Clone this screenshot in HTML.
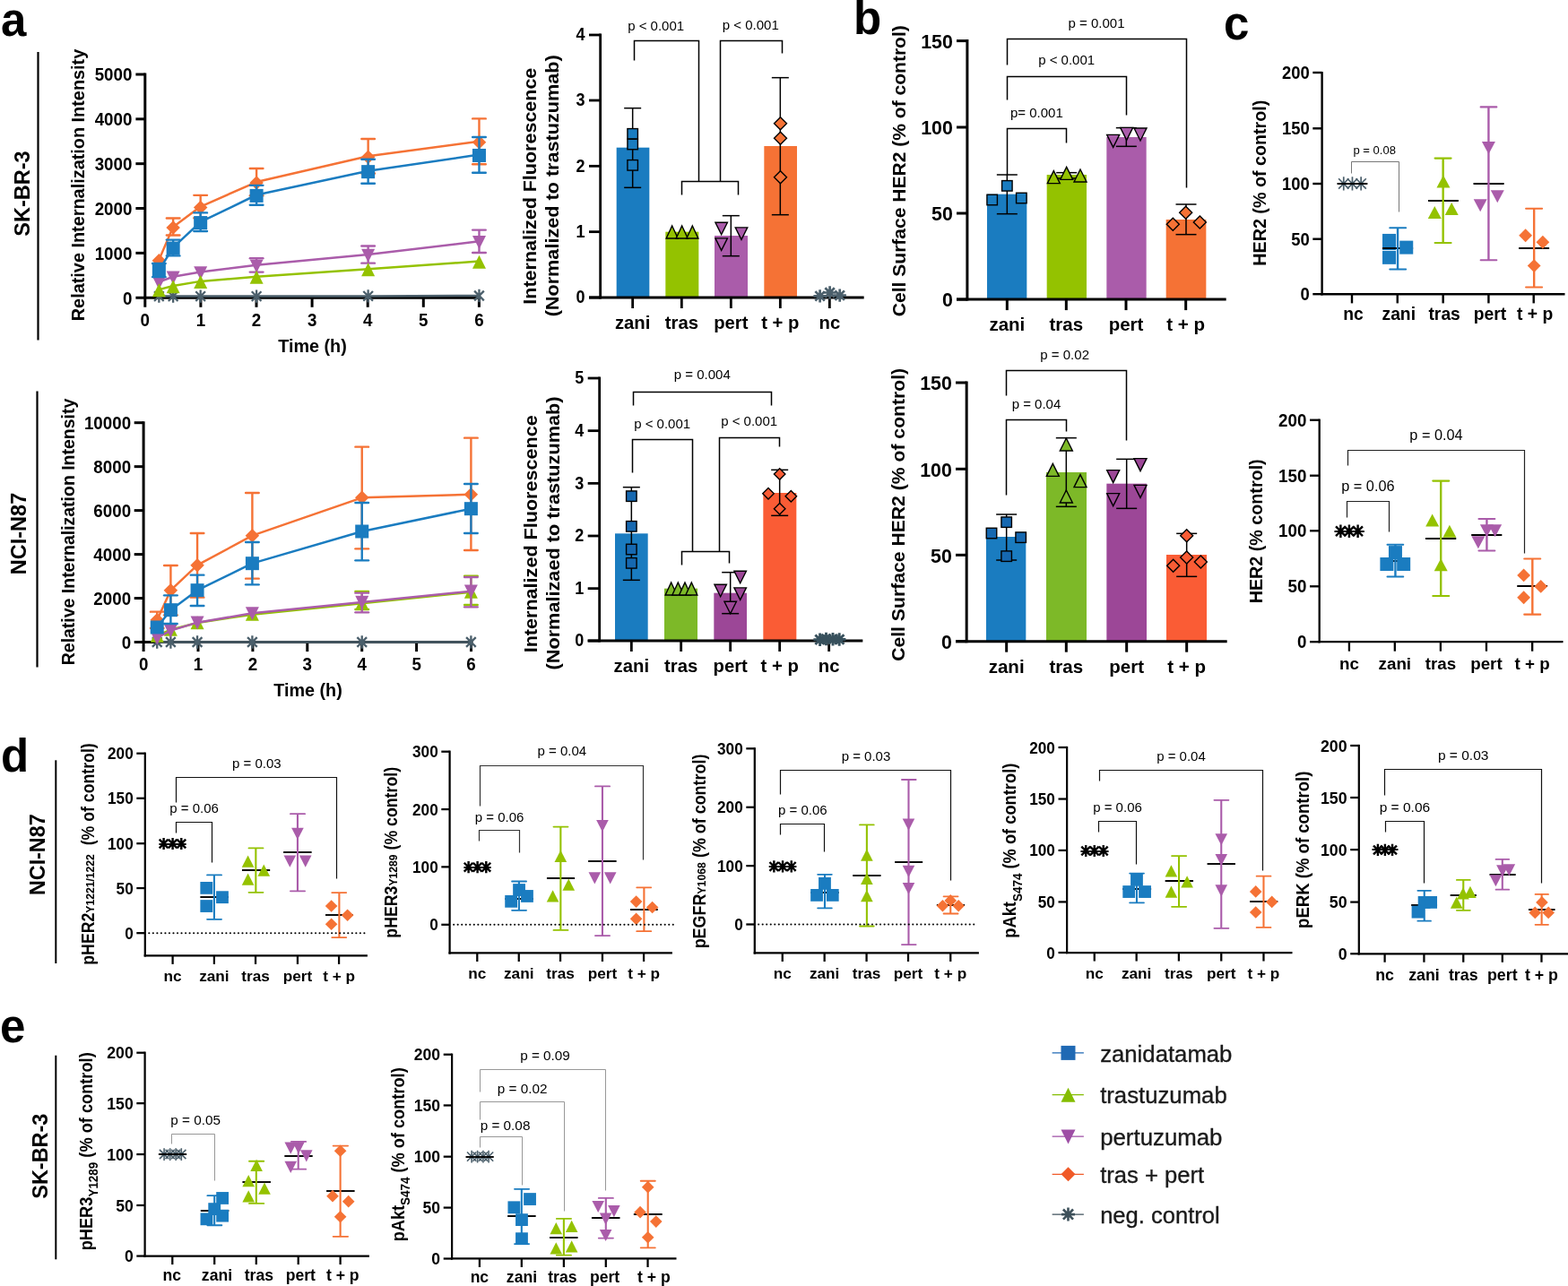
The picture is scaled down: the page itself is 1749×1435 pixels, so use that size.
<!DOCTYPE html>
<html lang="en"><head><meta charset="utf-8"><title>Figure</title>
<style>html,body{margin:0;padding:0;background:#fff}svg{display:block}text{font-family:'Liberation Sans', sans-serif}</style></head>
<body>
<svg width="1749" height="1435" viewBox="0 0 1749 1435">
<rect width="1749" height="1435" fill="#fff"/>
<line x1="161.8" y1="81.5" x2="161.8" y2="342.8" stroke="#000" stroke-width="3"/>
<line x1="151.4" y1="332.2" x2="535.5" y2="332.2" stroke="#000" stroke-width="3"/>
<line x1="151.4" y1="83" x2="161.8" y2="83" stroke="#000" stroke-width="3"/>
<text transform="translate(147.4 90.3) scale(0.92 1)" font-size="20.4" font-weight="bold" text-anchor="end">5000</text>
<line x1="151.4" y1="132.84" x2="161.8" y2="132.84" stroke="#000" stroke-width="3"/>
<text transform="translate(147.4 140.14) scale(0.92 1)" font-size="20.4" font-weight="bold" text-anchor="end">4000</text>
<line x1="151.4" y1="182.68" x2="161.8" y2="182.68" stroke="#000" stroke-width="3"/>
<text transform="translate(147.4 189.98) scale(0.92 1)" font-size="20.4" font-weight="bold" text-anchor="end">3000</text>
<line x1="151.4" y1="232.52" x2="161.8" y2="232.52" stroke="#000" stroke-width="3"/>
<text transform="translate(147.4 239.82) scale(0.92 1)" font-size="20.4" font-weight="bold" text-anchor="end">2000</text>
<line x1="151.4" y1="282.36" x2="161.8" y2="282.36" stroke="#000" stroke-width="3"/>
<text transform="translate(147.4 289.66) scale(0.92 1)" font-size="20.4" font-weight="bold" text-anchor="end">1000</text>
<text transform="translate(147.4 339.5) scale(0.92 1)" font-size="20.4" font-weight="bold" text-anchor="end">0</text>
<text transform="translate(161.8 364.2) scale(0.92 1)" font-size="20.4" font-weight="bold" text-anchor="middle">0</text>
<line x1="223.9" y1="332.2" x2="223.9" y2="342.8" stroke="#000" stroke-width="3"/>
<text transform="translate(223.9 364.2) scale(0.92 1)" font-size="20.4" font-weight="bold" text-anchor="middle">1</text>
<line x1="286" y1="332.2" x2="286" y2="342.8" stroke="#000" stroke-width="3"/>
<text transform="translate(286 364.2) scale(0.92 1)" font-size="20.4" font-weight="bold" text-anchor="middle">2</text>
<line x1="348.1" y1="332.2" x2="348.1" y2="342.8" stroke="#000" stroke-width="3"/>
<text transform="translate(348.1 364.2) scale(0.92 1)" font-size="20.4" font-weight="bold" text-anchor="middle">3</text>
<line x1="410.2" y1="332.2" x2="410.2" y2="342.8" stroke="#000" stroke-width="3"/>
<text transform="translate(410.2 364.2) scale(0.92 1)" font-size="20.4" font-weight="bold" text-anchor="middle">4</text>
<line x1="472.3" y1="332.2" x2="472.3" y2="342.8" stroke="#000" stroke-width="3"/>
<text transform="translate(472.3 364.2) scale(0.92 1)" font-size="20.4" font-weight="bold" text-anchor="middle">5</text>
<line x1="534.4" y1="332.2" x2="534.4" y2="342.8" stroke="#000" stroke-width="3"/>
<text transform="translate(534.4 364.2) scale(0.92 1)" font-size="20.4" font-weight="bold" text-anchor="middle">6</text>
<polyline points="177.36,330.6 193.14,330.6 223.67,330.6 286.11,330.6 410.63,330.4 534.48,330" fill="none" stroke="#4B5F6B" stroke-width="2.5" stroke-linejoin="round"/>
<path d="M177.36 323.4V337.8M172.01 325.25L182.7 335.95M172.01 335.95L182.7 325.25" stroke="#4B5F6B" stroke-width="2.3" fill="none"/>
<path d="M193.14 323.4V337.8M187.79 325.25L198.48 335.95M187.79 335.95L198.48 325.25" stroke="#4B5F6B" stroke-width="2.3" fill="none"/>
<path d="M223.67 323.4V337.8M218.32 325.25L229.02 335.95M218.32 335.95L229.02 325.25" stroke="#4B5F6B" stroke-width="2.3" fill="none"/>
<path d="M286.11 323.4V337.8M280.76 325.25L291.45 335.95M280.76 335.95L291.45 325.25" stroke="#4B5F6B" stroke-width="2.3" fill="none"/>
<path d="M410.63 323.2V337.6M405.29 325.05L415.98 335.75M405.29 335.75L415.98 325.05" stroke="#4B5F6B" stroke-width="2.3" fill="none"/>
<path d="M534.48 322.8V337.2M529.13 324.65L539.82 335.35M529.13 335.35L539.82 324.65" stroke="#4B5F6B" stroke-width="2.3" fill="none"/>
<polyline points="177.36,289.88 193.14,253.17 223.67,230.53 286.11,203.09 410.63,174.27 534.48,157.8" fill="none" stroke="#F57235" stroke-width="2.5" stroke-linejoin="round"/>
<line x1="193.14" y1="243.57" x2="193.14" y2="262.44" stroke="#F57235" stroke-width="2.4"/>
<line x1="185.84" y1="243.57" x2="200.44" y2="243.57" stroke="#F57235" stroke-width="2.4" stroke-linecap="round"/>
<line x1="185.84" y1="262.44" x2="200.44" y2="262.44" stroke="#F57235" stroke-width="2.4" stroke-linecap="round"/>
<line x1="223.67" y1="217.84" x2="223.67" y2="243.22" stroke="#F57235" stroke-width="2.4"/>
<line x1="216.37" y1="217.84" x2="230.97" y2="217.84" stroke="#F57235" stroke-width="2.4" stroke-linecap="round"/>
<line x1="216.37" y1="243.22" x2="230.97" y2="243.22" stroke="#F57235" stroke-width="2.4" stroke-linecap="round"/>
<line x1="286.11" y1="187.99" x2="286.11" y2="218.18" stroke="#F57235" stroke-width="2.4"/>
<line x1="278.81" y1="187.99" x2="293.41" y2="187.99" stroke="#F57235" stroke-width="2.4" stroke-linecap="round"/>
<line x1="278.81" y1="218.18" x2="293.41" y2="218.18" stroke="#F57235" stroke-width="2.4" stroke-linecap="round"/>
<line x1="410.63" y1="155.06" x2="410.63" y2="193.48" stroke="#F57235" stroke-width="2.4"/>
<line x1="403.33" y1="155.06" x2="417.93" y2="155.06" stroke="#F57235" stroke-width="2.4" stroke-linecap="round"/>
<line x1="403.33" y1="193.48" x2="417.93" y2="193.48" stroke="#F57235" stroke-width="2.4" stroke-linecap="round"/>
<line x1="534.48" y1="132.42" x2="534.48" y2="183.19" stroke="#F57235" stroke-width="2.4"/>
<line x1="527.18" y1="132.42" x2="541.78" y2="132.42" stroke="#F57235" stroke-width="2.4" stroke-linecap="round"/>
<line x1="527.18" y1="183.19" x2="541.78" y2="183.19" stroke="#F57235" stroke-width="2.4" stroke-linecap="round"/>
<polygon points="177.36,283.03 185.11,290.78 177.36,298.53 169.61,290.78" fill="#F57235"/>
<polygon points="193.14,246.32 200.89,254.07 193.14,261.82 185.39,254.07" fill="#F57235"/>
<polygon points="223.67,223.68 231.42,231.43 223.67,239.18 215.92,231.43" fill="#F57235"/>
<polygon points="286.11,196.24 293.86,203.99 286.11,211.74 278.36,203.99" fill="#F57235"/>
<polygon points="410.63,167.42 418.38,175.17 410.63,182.92 402.88,175.17" fill="#F57235"/>
<polygon points="534.48,150.95 542.23,158.7 534.48,166.45 526.73,158.7" fill="#F57235"/>
<polyline points="177.36,314.58 193.14,308.75 223.67,303.6 286.11,295.71 410.63,284.05 534.48,269.3" fill="none" stroke="#AA5CAA" stroke-width="2.5" stroke-linejoin="round"/>
<line x1="286.11" y1="288.16" x2="286.11" y2="303.6" stroke="#AA5CAA" stroke-width="2.4"/>
<line x1="278.81" y1="288.16" x2="293.41" y2="288.16" stroke="#AA5CAA" stroke-width="2.4" stroke-linecap="round"/>
<line x1="278.81" y1="303.6" x2="293.41" y2="303.6" stroke="#AA5CAA" stroke-width="2.4" stroke-linecap="round"/>
<line x1="410.63" y1="274.44" x2="410.63" y2="293.65" stroke="#AA5CAA" stroke-width="2.4"/>
<line x1="403.33" y1="274.44" x2="417.93" y2="274.44" stroke="#AA5CAA" stroke-width="2.4" stroke-linecap="round"/>
<line x1="403.33" y1="293.65" x2="417.93" y2="293.65" stroke="#AA5CAA" stroke-width="2.4" stroke-linecap="round"/>
<line x1="534.48" y1="256.6" x2="534.48" y2="281.99" stroke="#AA5CAA" stroke-width="2.4"/>
<line x1="527.18" y1="256.6" x2="541.78" y2="256.6" stroke="#AA5CAA" stroke-width="2.4" stroke-linecap="round"/>
<line x1="527.18" y1="281.99" x2="541.78" y2="281.99" stroke="#AA5CAA" stroke-width="2.4" stroke-linecap="round"/>
<polygon points="177.36,323.28 184.86,308.28 169.86,308.28" fill="#AA5CAA"/>
<polygon points="193.14,317.45 200.64,302.45 185.64,302.45" fill="#AA5CAA"/>
<polygon points="223.67,312.3 231.17,297.3 216.17,297.3" fill="#AA5CAA"/>
<polygon points="286.11,304.41 293.61,289.41 278.61,289.41" fill="#AA5CAA"/>
<polygon points="410.63,292.75 418.13,277.75 403.13,277.75" fill="#AA5CAA"/>
<polygon points="534.48,278 541.98,263 526.98,263" fill="#AA5CAA"/>
<polyline points="177.36,323.16 193.14,319.04 223.67,313.89 286.11,308.75 410.63,300.17 534.48,291.6" fill="none" stroke="#94C200" stroke-width="2.5" stroke-linejoin="round"/>
<polygon points="177.36,316.26 184.86,331.26 169.86,331.26" fill="#94C200"/>
<polygon points="193.14,312.14 200.64,327.14 185.64,327.14" fill="#94C200"/>
<polygon points="223.67,306.99 231.17,321.99 216.17,321.99" fill="#94C200"/>
<polygon points="286.11,301.85 293.61,316.85 278.61,316.85" fill="#94C200"/>
<polygon points="410.63,293.27 418.13,308.27 403.13,308.27" fill="#94C200"/>
<polygon points="534.48,284.7 541.98,299.7 526.98,299.7" fill="#94C200"/>
<polyline points="177.36,301.54 193.14,276.16 223.67,247.68 286.11,217.5 410.63,190.74 534.48,172.56" fill="none" stroke="#1A7CC0" stroke-width="2.5" stroke-linejoin="round"/>
<line x1="177.36" y1="294" x2="177.36" y2="309.09" stroke="#1A7CC0" stroke-width="2.4"/>
<line x1="170.06" y1="294" x2="184.66" y2="294" stroke="#1A7CC0" stroke-width="2.4" stroke-linecap="round"/>
<line x1="170.06" y1="309.09" x2="184.66" y2="309.09" stroke="#1A7CC0" stroke-width="2.4" stroke-linecap="round"/>
<line x1="193.14" y1="267.58" x2="193.14" y2="285.42" stroke="#1A7CC0" stroke-width="2.4"/>
<line x1="185.84" y1="267.58" x2="200.44" y2="267.58" stroke="#1A7CC0" stroke-width="2.4" stroke-linecap="round"/>
<line x1="185.84" y1="285.42" x2="200.44" y2="285.42" stroke="#1A7CC0" stroke-width="2.4" stroke-linecap="round"/>
<line x1="223.67" y1="237.39" x2="223.67" y2="257.98" stroke="#1A7CC0" stroke-width="2.4"/>
<line x1="216.37" y1="237.39" x2="230.97" y2="237.39" stroke="#1A7CC0" stroke-width="2.4" stroke-linecap="round"/>
<line x1="216.37" y1="257.98" x2="230.97" y2="257.98" stroke="#1A7CC0" stroke-width="2.4" stroke-linecap="round"/>
<line x1="286.11" y1="206.86" x2="286.11" y2="228.82" stroke="#1A7CC0" stroke-width="2.4"/>
<line x1="278.81" y1="206.86" x2="293.41" y2="206.86" stroke="#1A7CC0" stroke-width="2.4" stroke-linecap="round"/>
<line x1="278.81" y1="228.82" x2="293.41" y2="228.82" stroke="#1A7CC0" stroke-width="2.4" stroke-linecap="round"/>
<line x1="410.63" y1="177.7" x2="410.63" y2="204.8" stroke="#1A7CC0" stroke-width="2.4"/>
<line x1="403.33" y1="177.7" x2="417.93" y2="177.7" stroke="#1A7CC0" stroke-width="2.4" stroke-linecap="round"/>
<line x1="403.33" y1="204.8" x2="417.93" y2="204.8" stroke="#1A7CC0" stroke-width="2.4" stroke-linecap="round"/>
<line x1="534.48" y1="153" x2="534.48" y2="192.8" stroke="#1A7CC0" stroke-width="2.4"/>
<line x1="527.18" y1="153" x2="541.78" y2="153" stroke="#1A7CC0" stroke-width="2.4" stroke-linecap="round"/>
<line x1="527.18" y1="192.8" x2="541.78" y2="192.8" stroke="#1A7CC0" stroke-width="2.4" stroke-linecap="round"/>
<rect x="169.86" y="294.94" width="15" height="15" fill="#1A7CC0"/>
<rect x="185.64" y="269.56" width="15" height="15" fill="#1A7CC0"/>
<rect x="216.17" y="241.08" width="15" height="15" fill="#1A7CC0"/>
<rect x="278.61" y="210.9" width="15" height="15" fill="#1A7CC0"/>
<rect x="403.13" y="184.14" width="15" height="15" fill="#1A7CC0"/>
<rect x="526.98" y="165.96" width="15" height="15" fill="#1A7CC0"/>
<text x="348.5" y="392.8" font-size="19.8" font-weight="bold" text-anchor="middle">Time (h)</text>
<text transform="translate(93.5 206.5) rotate(-90)" font-size="20.5" font-weight="bold" text-anchor="middle" textLength="303.5" lengthAdjust="spacingAndGlyphs">Relative Internalization Intensity</text>
<text transform="translate(32.5 216) rotate(-90)" font-size="23.5" font-weight="bold" text-anchor="middle">SK-BR-3</text>
<line x1="42.5" y1="58" x2="42.5" y2="379.5" stroke="#000" stroke-width="2.2"/>
<line x1="160.1" y1="470.2" x2="160.1" y2="727.1" stroke="#000" stroke-width="3"/>
<line x1="149.7" y1="716.5" x2="527.5" y2="716.5" stroke="#000" stroke-width="3"/>
<line x1="149.7" y1="471.7" x2="160.1" y2="471.7" stroke="#000" stroke-width="3"/>
<text transform="translate(146.1 479) scale(0.92 1)" font-size="20.4" font-weight="bold" text-anchor="end">10000</text>
<line x1="149.7" y1="520.66" x2="160.1" y2="520.66" stroke="#000" stroke-width="3"/>
<text transform="translate(146.1 527.96) scale(0.92 1)" font-size="20.4" font-weight="bold" text-anchor="end">8000</text>
<line x1="149.7" y1="569.62" x2="160.1" y2="569.62" stroke="#000" stroke-width="3"/>
<text transform="translate(146.1 576.92) scale(0.92 1)" font-size="20.4" font-weight="bold" text-anchor="end">6000</text>
<line x1="149.7" y1="618.58" x2="160.1" y2="618.58" stroke="#000" stroke-width="3"/>
<text transform="translate(146.1 625.88) scale(0.92 1)" font-size="20.4" font-weight="bold" text-anchor="end">4000</text>
<line x1="149.7" y1="667.54" x2="160.1" y2="667.54" stroke="#000" stroke-width="3"/>
<text transform="translate(146.1 674.84) scale(0.92 1)" font-size="20.4" font-weight="bold" text-anchor="end">2000</text>
<text transform="translate(146.1 723.8) scale(0.92 1)" font-size="20.4" font-weight="bold" text-anchor="end">0</text>
<text transform="translate(160.1 748) scale(0.92 1)" font-size="20.4" font-weight="bold" text-anchor="middle">0</text>
<line x1="221" y1="716.5" x2="221" y2="727.1" stroke="#000" stroke-width="3"/>
<text transform="translate(221 748) scale(0.92 1)" font-size="20.4" font-weight="bold" text-anchor="middle">1</text>
<line x1="281.9" y1="716.5" x2="281.9" y2="727.1" stroke="#000" stroke-width="3"/>
<text transform="translate(281.9 748) scale(0.92 1)" font-size="20.4" font-weight="bold" text-anchor="middle">2</text>
<line x1="342.8" y1="716.5" x2="342.8" y2="727.1" stroke="#000" stroke-width="3"/>
<text transform="translate(342.8 748) scale(0.92 1)" font-size="20.4" font-weight="bold" text-anchor="middle">3</text>
<line x1="403.7" y1="716.5" x2="403.7" y2="727.1" stroke="#000" stroke-width="3"/>
<text transform="translate(403.7 748) scale(0.92 1)" font-size="20.4" font-weight="bold" text-anchor="middle">4</text>
<line x1="464.6" y1="716.5" x2="464.6" y2="727.1" stroke="#000" stroke-width="3"/>
<text transform="translate(464.6 748) scale(0.92 1)" font-size="20.4" font-weight="bold" text-anchor="middle">5</text>
<line x1="525.5" y1="716.5" x2="525.5" y2="727.1" stroke="#000" stroke-width="3"/>
<text transform="translate(525.5 748) scale(0.92 1)" font-size="20.4" font-weight="bold" text-anchor="middle">6</text>
<polyline points="175.23,716.5 190.4,716.5 220.07,716.5 281.4,716.5 403.73,716.5 525.4,716.5" fill="none" stroke="#4B5F6B" stroke-width="2.5" stroke-linejoin="round"/>
<path d="M175.23 709.3V723.7M169.89 711.15L180.58 721.85M169.89 721.85L180.58 711.15" stroke="#4B5F6B" stroke-width="2.3" fill="none"/>
<path d="M190.4 709.3V723.7M185.05 711.15L195.75 721.85M185.05 721.85L195.75 711.15" stroke="#4B5F6B" stroke-width="2.3" fill="none"/>
<path d="M220.07 709.3V723.7M214.72 711.15L225.41 721.85M214.72 721.85L225.41 711.15" stroke="#4B5F6B" stroke-width="2.3" fill="none"/>
<path d="M281.4 709.3V723.7M276.05 711.15L286.75 721.85M276.05 721.85L286.75 711.15" stroke="#4B5F6B" stroke-width="2.3" fill="none"/>
<path d="M403.73 709.3V723.7M398.39 711.15L409.08 721.85M398.39 721.85L409.08 711.15" stroke="#4B5F6B" stroke-width="2.3" fill="none"/>
<path d="M525.4 709.3V723.7M520.05 711.15L530.75 721.85M520.05 721.85L530.75 711.15" stroke="#4B5F6B" stroke-width="2.3" fill="none"/>
<polyline points="175.23,691.67 190.4,658.67 220.07,630.67 281.4,597.67 403.73,555.33 525.4,551.67" fill="none" stroke="#F57235" stroke-width="2.5" stroke-linejoin="round"/>
<line x1="175.23" y1="682.67" x2="175.23" y2="701" stroke="#F57235" stroke-width="2.4"/>
<line x1="167.93" y1="682.67" x2="182.53" y2="682.67" stroke="#F57235" stroke-width="2.4" stroke-linecap="round"/>
<line x1="167.93" y1="701" x2="182.53" y2="701" stroke="#F57235" stroke-width="2.4" stroke-linecap="round"/>
<line x1="190.4" y1="631" x2="190.4" y2="686.33" stroke="#F57235" stroke-width="2.4"/>
<line x1="183.1" y1="631" x2="197.7" y2="631" stroke="#F57235" stroke-width="2.4" stroke-linecap="round"/>
<line x1="183.1" y1="686.33" x2="197.7" y2="686.33" stroke="#F57235" stroke-width="2.4" stroke-linecap="round"/>
<line x1="220.07" y1="595" x2="220.07" y2="666.67" stroke="#F57235" stroke-width="2.4"/>
<line x1="212.77" y1="595" x2="227.37" y2="595" stroke="#F57235" stroke-width="2.4" stroke-linecap="round"/>
<line x1="212.77" y1="666.67" x2="227.37" y2="666.67" stroke="#F57235" stroke-width="2.4" stroke-linecap="round"/>
<line x1="281.4" y1="550" x2="281.4" y2="645.67" stroke="#F57235" stroke-width="2.4"/>
<line x1="274.1" y1="550" x2="288.7" y2="550" stroke="#F57235" stroke-width="2.4" stroke-linecap="round"/>
<line x1="274.1" y1="645.67" x2="288.7" y2="645.67" stroke="#F57235" stroke-width="2.4" stroke-linecap="round"/>
<line x1="403.73" y1="498.67" x2="403.73" y2="612.33" stroke="#F57235" stroke-width="2.4"/>
<line x1="396.43" y1="498.67" x2="411.03" y2="498.67" stroke="#F57235" stroke-width="2.4" stroke-linecap="round"/>
<line x1="396.43" y1="612.33" x2="411.03" y2="612.33" stroke="#F57235" stroke-width="2.4" stroke-linecap="round"/>
<line x1="525.4" y1="488.67" x2="525.4" y2="614" stroke="#F57235" stroke-width="2.4"/>
<line x1="518.1" y1="488.67" x2="532.7" y2="488.67" stroke="#F57235" stroke-width="2.4" stroke-linecap="round"/>
<line x1="518.1" y1="614" x2="532.7" y2="614" stroke="#F57235" stroke-width="2.4" stroke-linecap="round"/>
<polygon points="175.23,683.92 182.98,691.67 175.23,699.42 167.48,691.67" fill="#F57235"/>
<polygon points="190.4,650.92 198.15,658.67 190.4,666.42 182.65,658.67" fill="#F57235"/>
<polygon points="220.07,622.92 227.82,630.67 220.07,638.42 212.32,630.67" fill="#F57235"/>
<polygon points="281.4,589.92 289.15,597.67 281.4,605.42 273.65,597.67" fill="#F57235"/>
<polygon points="403.73,547.58 411.48,555.33 403.73,563.08 395.98,555.33" fill="#F57235"/>
<polygon points="525.4,543.92 533.15,551.67 525.4,559.42 517.65,551.67" fill="#F57235"/>
<polyline points="175.23,709.5 190.4,702.67 220.07,695 281.4,685.67 403.73,673.33 525.4,660.67" fill="none" stroke="#94C200" stroke-width="2.5" stroke-linejoin="round"/>
<line x1="403.73" y1="660" x2="403.73" y2="680" stroke="#94C200" stroke-width="2.4"/>
<line x1="396.43" y1="660" x2="411.03" y2="660" stroke="#94C200" stroke-width="2.4" stroke-linecap="round"/>
<line x1="396.43" y1="680" x2="411.03" y2="680" stroke="#94C200" stroke-width="2.4" stroke-linecap="round"/>
<line x1="525.4" y1="642.67" x2="525.4" y2="675" stroke="#94C200" stroke-width="2.4"/>
<line x1="518.1" y1="642.67" x2="532.7" y2="642.67" stroke="#94C200" stroke-width="2.4" stroke-linecap="round"/>
<line x1="518.1" y1="675" x2="532.7" y2="675" stroke="#94C200" stroke-width="2.4" stroke-linecap="round"/>
<polygon points="175.23,701.7 182.73,716.7 167.73,716.7" fill="#94C200"/>
<polygon points="190.4,694.87 197.9,709.87 182.9,709.87" fill="#94C200"/>
<polygon points="220.07,687.2 227.57,702.2 212.57,702.2" fill="#94C200"/>
<polygon points="281.4,677.87 288.9,692.87 273.9,692.87" fill="#94C200"/>
<polygon points="403.73,665.53 411.23,680.53 396.23,680.53" fill="#94C200"/>
<polygon points="525.4,652.87 532.9,667.87 517.9,667.87" fill="#94C200"/>
<polyline points="175.23,711.67 190.4,703.67 220.07,694.67 281.4,684.33 403.73,672 525.4,659.67" fill="none" stroke="#AA5CAA" stroke-width="2.5" stroke-linejoin="round"/>
<line x1="403.73" y1="661.67" x2="403.73" y2="683.33" stroke="#AA5CAA" stroke-width="2.4"/>
<line x1="396.43" y1="661.67" x2="411.03" y2="661.67" stroke="#AA5CAA" stroke-width="2.4" stroke-linecap="round"/>
<line x1="396.43" y1="683.33" x2="411.03" y2="683.33" stroke="#AA5CAA" stroke-width="2.4" stroke-linecap="round"/>
<line x1="525.4" y1="644" x2="525.4" y2="677.33" stroke="#AA5CAA" stroke-width="2.4"/>
<line x1="518.1" y1="644" x2="532.7" y2="644" stroke="#AA5CAA" stroke-width="2.4" stroke-linecap="round"/>
<line x1="518.1" y1="677.33" x2="532.7" y2="677.33" stroke="#AA5CAA" stroke-width="2.4" stroke-linecap="round"/>
<polygon points="175.23,719.47 182.73,704.47 167.73,704.47" fill="#AA5CAA"/>
<polygon points="190.4,711.47 197.9,696.47 182.9,696.47" fill="#AA5CAA"/>
<polygon points="220.07,702.47 227.57,687.47 212.57,687.47" fill="#AA5CAA"/>
<polygon points="281.4,692.13 288.9,677.13 273.9,677.13" fill="#AA5CAA"/>
<polygon points="403.73,679.8 411.23,664.8 396.23,664.8" fill="#AA5CAA"/>
<polygon points="525.4,667.47 532.9,652.47 517.9,652.47" fill="#AA5CAA"/>
<polyline points="175.23,700 190.4,680.67 220.07,658.67 281.4,628.67 403.73,593 525.4,567.67" fill="none" stroke="#1A7CC0" stroke-width="2.5" stroke-linejoin="round"/>
<line x1="190.4" y1="664.33" x2="190.4" y2="696" stroke="#1A7CC0" stroke-width="2.4"/>
<line x1="183.1" y1="664.33" x2="197.7" y2="664.33" stroke="#1A7CC0" stroke-width="2.4" stroke-linecap="round"/>
<line x1="183.1" y1="696" x2="197.7" y2="696" stroke="#1A7CC0" stroke-width="2.4" stroke-linecap="round"/>
<line x1="220.07" y1="641.67" x2="220.07" y2="676" stroke="#1A7CC0" stroke-width="2.4"/>
<line x1="212.77" y1="641.67" x2="227.37" y2="641.67" stroke="#1A7CC0" stroke-width="2.4" stroke-linecap="round"/>
<line x1="212.77" y1="676" x2="227.37" y2="676" stroke="#1A7CC0" stroke-width="2.4" stroke-linecap="round"/>
<line x1="281.4" y1="605" x2="281.4" y2="652.33" stroke="#1A7CC0" stroke-width="2.4"/>
<line x1="274.1" y1="605" x2="288.7" y2="605" stroke="#1A7CC0" stroke-width="2.4" stroke-linecap="round"/>
<line x1="274.1" y1="652.33" x2="288.7" y2="652.33" stroke="#1A7CC0" stroke-width="2.4" stroke-linecap="round"/>
<line x1="403.73" y1="561" x2="403.73" y2="625.33" stroke="#1A7CC0" stroke-width="2.4"/>
<line x1="396.43" y1="561" x2="411.03" y2="561" stroke="#1A7CC0" stroke-width="2.4" stroke-linecap="round"/>
<line x1="396.43" y1="625.33" x2="411.03" y2="625.33" stroke="#1A7CC0" stroke-width="2.4" stroke-linecap="round"/>
<line x1="525.4" y1="540" x2="525.4" y2="595" stroke="#1A7CC0" stroke-width="2.4"/>
<line x1="518.1" y1="540" x2="532.7" y2="540" stroke="#1A7CC0" stroke-width="2.4" stroke-linecap="round"/>
<line x1="518.1" y1="595" x2="532.7" y2="595" stroke="#1A7CC0" stroke-width="2.4" stroke-linecap="round"/>
<rect x="167.73" y="692.5" width="15" height="15" fill="#1A7CC0"/>
<rect x="182.9" y="673.17" width="15" height="15" fill="#1A7CC0"/>
<rect x="212.57" y="651.17" width="15" height="15" fill="#1A7CC0"/>
<rect x="273.9" y="621.17" width="15" height="15" fill="#1A7CC0"/>
<rect x="396.23" y="585.5" width="15" height="15" fill="#1A7CC0"/>
<rect x="517.9" y="560.17" width="15" height="15" fill="#1A7CC0"/>
<text x="343.5" y="777.3" font-size="19.8" font-weight="bold" text-anchor="middle">Time (h)</text>
<text transform="translate(82.5 593.5) rotate(-90)" font-size="20.5" font-weight="bold" text-anchor="middle" textLength="297.5" lengthAdjust="spacingAndGlyphs">Relative Internalization Intensity</text>
<text transform="translate(28.5 595.5) rotate(-90)" font-size="23.5" font-weight="bold" text-anchor="middle">NCI-N87</text>
<line x1="41.5" y1="436.5" x2="41.5" y2="744.5" stroke="#000" stroke-width="2.2"/>
<text x="1" y="40" font-size="51" font-weight="bold" text-anchor="start">a</text>
<rect x="687.67" y="164.67" width="36.67" height="167.33" fill="#1A7CC0"/>
<rect x="742.33" y="258.67" width="37" height="73.33" fill="#94C200"/>
<rect x="797" y="263" width="37" height="69" fill="#AA5CAA"/>
<rect x="852.33" y="163" width="36.67" height="169" fill="#F57235"/>
<line x1="705.67" y1="120.67" x2="705.67" y2="209.33" stroke="#000" stroke-width="1.5"/>
<line x1="696.17" y1="120.67" x2="715.17" y2="120.67" stroke="#000" stroke-width="1.5"/>
<line x1="696.17" y1="209.33" x2="715.17" y2="209.33" stroke="#000" stroke-width="1.5"/>
<line x1="815.33" y1="240.67" x2="815.33" y2="285.67" stroke="#000" stroke-width="1.5"/>
<line x1="805.83" y1="240.67" x2="824.83" y2="240.67" stroke="#000" stroke-width="1.5"/>
<line x1="805.83" y1="285.67" x2="824.83" y2="285.67" stroke="#000" stroke-width="1.5"/>
<line x1="870.33" y1="86.67" x2="870.33" y2="239.67" stroke="#000" stroke-width="1.5"/>
<line x1="860.83" y1="86.67" x2="879.83" y2="86.67" stroke="#000" stroke-width="1.5"/>
<line x1="860.83" y1="239.67" x2="879.83" y2="239.67" stroke="#000" stroke-width="1.5"/>
<rect x="699.92" y="143.58" width="11.5" height="11.5" fill="#1A7CC0" stroke="#000" stroke-width="1.4"/>
<rect x="699.92" y="155.25" width="11.5" height="11.5" fill="#1A7CC0" stroke="#000" stroke-width="1.4"/>
<rect x="699.92" y="178.58" width="11.5" height="11.5" fill="#1A7CC0" stroke="#000" stroke-width="1.4"/>
<polygon points="749.67,252 756.17,266 743.17,266" fill="#94C200" stroke="#000" stroke-width="1.4" stroke-linejoin="miter"/>
<polygon points="760.67,252 767.17,266 754.17,266" fill="#94C200" stroke="#000" stroke-width="1.4" stroke-linejoin="miter"/>
<polygon points="772.33,252 778.83,266 765.83,266" fill="#94C200" stroke="#000" stroke-width="1.4" stroke-linejoin="miter"/>
<polygon points="804.67,261.75 811.42,248.25 797.92,248.25" fill="#AA5CAA" stroke="#000" stroke-width="1.4" stroke-linejoin="miter"/>
<polygon points="827,267.42 833.75,253.92 820.25,253.92" fill="#AA5CAA" stroke="#000" stroke-width="1.4" stroke-linejoin="miter"/>
<polygon points="804.67,279.42 811.42,265.92 797.92,265.92" fill="#AA5CAA" stroke="#000" stroke-width="1.4" stroke-linejoin="miter"/>
<polygon points="870.5,130.67 877.5,137.67 870.5,144.67 863.5,137.67" fill="#F57235" stroke="#000" stroke-width="1.4" stroke-linejoin="miter"/>
<polygon points="870.5,147.33 877.5,154.33 870.5,161.33 863.5,154.33" fill="#F57235" stroke="#000" stroke-width="1.4" stroke-linejoin="miter"/>
<polygon points="870.5,190.67 877.5,197.67 870.5,204.67 863.5,197.67" fill="#F57235" stroke="#000" stroke-width="1.4" stroke-linejoin="miter"/>
<line x1="669.67" y1="37.6" x2="669.67" y2="333.4" stroke="#000" stroke-width="2.8"/>
<line x1="657" y1="332" x2="963.67" y2="332" stroke="#000" stroke-width="2.8"/>
<line x1="657" y1="39" x2="669.67" y2="39" stroke="#000" stroke-width="2.8"/>
<text transform="translate(652.5 45.35) scale(0.93 1)" font-size="19.4" font-weight="bold" text-anchor="end">4</text>
<line x1="657" y1="112" x2="669.67" y2="112" stroke="#000" stroke-width="2.8"/>
<text transform="translate(652.5 118.35) scale(0.93 1)" font-size="19.4" font-weight="bold" text-anchor="end">3</text>
<line x1="657" y1="185.33" x2="669.67" y2="185.33" stroke="#000" stroke-width="2.8"/>
<text transform="translate(652.5 191.68) scale(0.93 1)" font-size="19.4" font-weight="bold" text-anchor="end">2</text>
<line x1="657" y1="258.67" x2="669.67" y2="258.67" stroke="#000" stroke-width="2.8"/>
<text transform="translate(652.5 265.01) scale(0.93 1)" font-size="19.4" font-weight="bold" text-anchor="end">1</text>
<line x1="657" y1="332" x2="669.67" y2="332" stroke="#000" stroke-width="2.8"/>
<text transform="translate(652.5 338.35) scale(0.93 1)" font-size="19.4" font-weight="bold" text-anchor="end">0</text>
<line x1="705.67" y1="332" x2="705.67" y2="344" stroke="#000" stroke-width="2.8"/>
<text transform="translate(705.67 366.97) scale(1.03 1)" font-size="19.7" font-weight="bold" text-anchor="middle">zani</text>
<line x1="760.33" y1="332" x2="760.33" y2="344" stroke="#000" stroke-width="2.8"/>
<text transform="translate(760.33 366.97) scale(1.03 1)" font-size="19.7" font-weight="bold" text-anchor="middle">tras</text>
<line x1="815.33" y1="332" x2="815.33" y2="344" stroke="#000" stroke-width="2.8"/>
<text transform="translate(815.33 366.97) scale(1.03 1)" font-size="19.7" font-weight="bold" text-anchor="middle">pert</text>
<line x1="870.33" y1="332" x2="870.33" y2="344" stroke="#000" stroke-width="2.8"/>
<text transform="translate(870.33 366.97) scale(1.03 1)" font-size="19.7" font-weight="bold" text-anchor="middle">t + p</text>
<line x1="925.33" y1="332" x2="925.33" y2="344" stroke="#000" stroke-width="2.8"/>
<text transform="translate(925.33 366.97) scale(1.03 1)" font-size="19.7" font-weight="bold" text-anchor="middle">nc</text>
<path d="M914.6 323.2V337.6M909.37 325.17L919.83 335.63M909.37 335.63L919.83 325.17M907.4 330.4H921.8" stroke="#4B5F6B" stroke-width="2.7" fill="none"/>
<path d="M936.7 322.4V336.8M931.47 324.37L941.93 334.83M931.47 334.83L941.93 324.37M929.5 329.6H943.9" stroke="#4B5F6B" stroke-width="2.7" fill="none"/>
<path d="M925.6 319.3V333.7M920.37 321.27L930.83 331.73M920.37 331.73L930.83 321.27M918.4 326.5H932.8" stroke="#4B5F6B" stroke-width="2.7" fill="none"/>
<polyline points="707.5,67.5 707.5,45.5 779.5,45.5 779.5,202.5" fill="none" stroke="#000" stroke-width="1.5" stroke-linejoin="miter"/>
<polyline points="760.5,217.5 760.5,202.5 823.5,202.5 823.5,217.5" fill="none" stroke="#000" stroke-width="1.5" stroke-linejoin="miter"/>
<polyline points="803.5,202.5 803.5,45.5 872.5,45.5 872.5,59.5" fill="none" stroke="#000" stroke-width="1.5" stroke-linejoin="miter"/>
<text x="731.67" y="34.33" font-size="15" text-anchor="middle">p &lt; 0.001</text>
<text x="837.33" y="33" font-size="15" text-anchor="middle">p &lt; 0.001</text>
<text transform="translate(597.67 207.67) rotate(-90)" font-size="20.5" font-weight="bold" text-anchor="middle" textLength="264" lengthAdjust="spacingAndGlyphs">Internalized Fluorescence</text>
<text transform="translate(623 207.33) rotate(-90)" font-size="20.5" font-weight="bold" text-anchor="middle" textLength="292" lengthAdjust="spacingAndGlyphs">(Normalized to trastuzumab)</text>
<rect x="686" y="595.33" width="36.67" height="119.67" fill="#1A7CC0"/>
<rect x="741" y="656.67" width="37" height="58.33" fill="#7DB928"/>
<rect x="796.33" y="661.67" width="36.67" height="53.33" fill="#9C4797"/>
<rect x="851.33" y="550" width="37" height="165" fill="#FA5C35"/>
<line x1="704.33" y1="543.67" x2="704.33" y2="647.33" stroke="#000" stroke-width="1.5"/>
<line x1="694.83" y1="543.67" x2="713.83" y2="543.67" stroke="#000" stroke-width="1.5"/>
<line x1="694.83" y1="647.33" x2="713.83" y2="647.33" stroke="#000" stroke-width="1.5"/>
<line x1="814.67" y1="638.67" x2="814.67" y2="684.67" stroke="#000" stroke-width="1.5"/>
<line x1="805.17" y1="638.67" x2="824.17" y2="638.67" stroke="#000" stroke-width="1.5"/>
<line x1="805.17" y1="684.67" x2="824.17" y2="684.67" stroke="#000" stroke-width="1.5"/>
<line x1="869.67" y1="524.33" x2="869.67" y2="575.33" stroke="#000" stroke-width="1.5"/>
<line x1="860.17" y1="524.33" x2="879.17" y2="524.33" stroke="#000" stroke-width="1.5"/>
<line x1="860.17" y1="575.33" x2="879.17" y2="575.33" stroke="#000" stroke-width="1.5"/>
<rect x="698.58" y="547.92" width="11.5" height="11.5" fill="#1668B0" stroke="#000" stroke-width="1.4"/>
<rect x="698.58" y="581.58" width="11.5" height="11.5" fill="#1668B0" stroke="#000" stroke-width="1.4"/>
<rect x="698.58" y="607.25" width="11.5" height="11.5" fill="#1668B0" stroke="#000" stroke-width="1.4"/>
<rect x="698.58" y="622.58" width="11.5" height="11.5" fill="#1668B0" stroke="#000" stroke-width="1.4"/>
<polygon points="748.67,650 755.17,664 742.17,664" fill="#7DB928" stroke="#000" stroke-width="1.4" stroke-linejoin="miter"/>
<polygon points="756.33,650 762.83,664 749.83,664" fill="#7DB928" stroke="#000" stroke-width="1.4" stroke-linejoin="miter"/>
<polygon points="764,650 770.5,664 757.5,664" fill="#7DB928" stroke="#000" stroke-width="1.4" stroke-linejoin="miter"/>
<polygon points="771.33,650 777.83,664 764.83,664" fill="#7DB928" stroke="#000" stroke-width="1.4" stroke-linejoin="miter"/>
<polygon points="825.67,650.75 832.42,637.25 818.92,637.25" fill="#9C4797" stroke="#000" stroke-width="1.4" stroke-linejoin="miter"/>
<polygon points="803.67,665.75 810.42,652.25 796.92,652.25" fill="#9C4797" stroke="#000" stroke-width="1.4" stroke-linejoin="miter"/>
<polygon points="825.67,669.42 832.42,655.92 818.92,655.92" fill="#9C4797" stroke="#000" stroke-width="1.4" stroke-linejoin="miter"/>
<polygon points="814.67,684.75 821.42,671.25 807.92,671.25" fill="#9C4797" stroke="#000" stroke-width="1.4" stroke-linejoin="miter"/>
<polygon points="869.67,522.75 875.92,529 869.67,535.25 863.42,529" fill="#FA5C35" stroke="#000" stroke-width="1.4" stroke-linejoin="miter"/>
<polygon points="857,544.42 863.25,550.67 857,556.92 850.75,550.67" fill="#FA5C35" stroke="#000" stroke-width="1.4" stroke-linejoin="miter"/>
<polygon points="882.33,547.42 888.58,553.67 882.33,559.92 876.08,553.67" fill="#FA5C35" stroke="#000" stroke-width="1.4" stroke-linejoin="miter"/>
<polygon points="869.67,561.42 875.92,567.67 869.67,573.92 863.42,567.67" fill="#FA5C35" stroke="#000" stroke-width="1.4" stroke-linejoin="miter"/>
<line x1="668.67" y1="420.6" x2="668.67" y2="716.4" stroke="#000" stroke-width="2.8"/>
<line x1="655.67" y1="715" x2="962.33" y2="715" stroke="#000" stroke-width="2.8"/>
<line x1="655.67" y1="422" x2="668.67" y2="422" stroke="#000" stroke-width="2.8"/>
<text transform="translate(651.17 428.35) scale(0.93 1)" font-size="19.4" font-weight="bold" text-anchor="end">5</text>
<line x1="655.67" y1="480.67" x2="668.67" y2="480.67" stroke="#000" stroke-width="2.8"/>
<text transform="translate(651.17 487.01) scale(0.93 1)" font-size="19.4" font-weight="bold" text-anchor="end">4</text>
<line x1="655.67" y1="539.33" x2="668.67" y2="539.33" stroke="#000" stroke-width="2.8"/>
<text transform="translate(651.17 545.68) scale(0.93 1)" font-size="19.4" font-weight="bold" text-anchor="end">3</text>
<line x1="655.67" y1="598" x2="668.67" y2="598" stroke="#000" stroke-width="2.8"/>
<text transform="translate(651.17 604.35) scale(0.93 1)" font-size="19.4" font-weight="bold" text-anchor="end">2</text>
<line x1="655.67" y1="656.67" x2="668.67" y2="656.67" stroke="#000" stroke-width="2.8"/>
<text transform="translate(651.17 663.01) scale(0.93 1)" font-size="19.4" font-weight="bold" text-anchor="end">1</text>
<line x1="655.67" y1="715" x2="668.67" y2="715" stroke="#000" stroke-width="2.8"/>
<text transform="translate(651.17 721.35) scale(0.93 1)" font-size="19.4" font-weight="bold" text-anchor="end">0</text>
<line x1="704.33" y1="715" x2="704.33" y2="727" stroke="#000" stroke-width="2.8"/>
<text transform="translate(704.33 749.63) scale(1.03 1)" font-size="19.7" font-weight="bold" text-anchor="middle">zani</text>
<line x1="759.67" y1="715" x2="759.67" y2="727" stroke="#000" stroke-width="2.8"/>
<text transform="translate(759.67 749.63) scale(1.03 1)" font-size="19.7" font-weight="bold" text-anchor="middle">tras</text>
<line x1="814.67" y1="715" x2="814.67" y2="727" stroke="#000" stroke-width="2.8"/>
<text transform="translate(814.67 749.63) scale(1.03 1)" font-size="19.7" font-weight="bold" text-anchor="middle">pert</text>
<line x1="869.67" y1="715" x2="869.67" y2="727" stroke="#000" stroke-width="2.8"/>
<text transform="translate(869.67 749.63) scale(1.03 1)" font-size="19.7" font-weight="bold" text-anchor="middle">t + p</text>
<line x1="924.67" y1="715" x2="924.67" y2="727" stroke="#000" stroke-width="2.8"/>
<text transform="translate(924.67 749.63) scale(1.03 1)" font-size="19.7" font-weight="bold" text-anchor="middle">nc</text>
<path d="M914.6 706.6V721M909.37 708.57L919.83 719.03M909.37 719.03L919.83 708.57M907.4 713.8H921.8" stroke="#37505C" stroke-width="2.9" fill="none"/>
<path d="M936.2 706.3V720.7M930.97 708.27L941.43 718.73M930.97 718.73L941.43 708.27M929 713.5H943.4" stroke="#37505C" stroke-width="2.9" fill="none"/>
<path d="M921.5 705.8V720.2M916.27 707.77L926.73 718.23M916.27 718.23L926.73 707.77M914.3 713H928.7" stroke="#37505C" stroke-width="2.9" fill="none"/>
<path d="M929 706V720.4M923.77 707.97L934.23 718.43M923.77 718.43L934.23 707.97M921.8 713.2H936.2" stroke="#37505C" stroke-width="2.9" fill="none"/>
<polyline points="706.5,452.5 706.5,437.5 860.5,437.5 860.5,452.5" fill="none" stroke="#000" stroke-width="1.5" stroke-linejoin="miter"/>
<polyline points="705.5,527.5 705.5,490.5 772.5,490.5 772.5,615.5" fill="none" stroke="#000" stroke-width="1.5" stroke-linejoin="miter"/>
<polyline points="802.5,615.5 802.5,488.5 869.5,488.5 869.5,498.5" fill="none" stroke="#000" stroke-width="1.5" stroke-linejoin="miter"/>
<polyline points="760.5,630.5 760.5,615.5 813.5,615.5 813.5,628.5" fill="none" stroke="#000" stroke-width="1.5" stroke-linejoin="miter"/>
<text x="783.33" y="423.33" font-size="15" text-anchor="middle">p = 0.004</text>
<text x="738.67" y="477.67" font-size="15" text-anchor="middle">p &lt; 0.001</text>
<text x="835.67" y="475" font-size="15" text-anchor="middle">p &lt; 0.001</text>
<text transform="translate(599 595.83) rotate(-90)" font-size="20.5" font-weight="bold" text-anchor="middle" textLength="265" lengthAdjust="spacingAndGlyphs">Internalized Fluorescence</text>
<text transform="translate(624.33 595) rotate(-90)" font-size="20.5" font-weight="bold" text-anchor="middle" textLength="305" lengthAdjust="spacingAndGlyphs">(Normalizaed to trastuzumab)</text>
<rect x="1101" y="216.67" width="44.33" height="117.43" fill="#1A7CC0"/>
<rect x="1167.67" y="195" width="44.33" height="139.1" fill="#94C200"/>
<rect x="1234.33" y="153" width="44.33" height="181.1" fill="#AA5CAA"/>
<rect x="1300.67" y="245" width="44.67" height="89.1" fill="#F57235"/>
<line x1="1123.33" y1="195" x2="1123.33" y2="238.67" stroke="#000" stroke-width="1.5"/>
<line x1="1111.83" y1="195" x2="1134.83" y2="195" stroke="#000" stroke-width="1.5"/>
<line x1="1111.83" y1="238.67" x2="1134.83" y2="238.67" stroke="#000" stroke-width="1.5"/>
<line x1="1189.67" y1="192.67" x2="1189.67" y2="199" stroke="#000" stroke-width="1.5"/>
<line x1="1178.17" y1="192.67" x2="1201.17" y2="192.67" stroke="#000" stroke-width="1.5"/>
<line x1="1178.17" y1="199" x2="1201.17" y2="199" stroke="#000" stroke-width="1.5"/>
<line x1="1256.33" y1="142.67" x2="1256.33" y2="163.33" stroke="#000" stroke-width="1.5"/>
<line x1="1244.83" y1="142.67" x2="1267.83" y2="142.67" stroke="#000" stroke-width="1.5"/>
<line x1="1244.83" y1="163.33" x2="1267.83" y2="163.33" stroke="#000" stroke-width="1.5"/>
<line x1="1323" y1="228" x2="1323" y2="261.67" stroke="#000" stroke-width="1.5"/>
<line x1="1311.5" y1="228" x2="1334.5" y2="228" stroke="#000" stroke-width="1.5"/>
<line x1="1311.5" y1="261.67" x2="1334.5" y2="261.67" stroke="#000" stroke-width="1.5"/>
<rect x="1117.58" y="201.58" width="11.5" height="11.5" fill="#1A7CC0" stroke="#000" stroke-width="1.4"/>
<rect x="1100.92" y="217.25" width="11.5" height="11.5" fill="#1A7CC0" stroke="#000" stroke-width="1.4"/>
<rect x="1133.58" y="215.25" width="11.5" height="11.5" fill="#1A7CC0" stroke="#000" stroke-width="1.4"/>
<polygon points="1175.33,190.67 1182.33,204.67 1168.33,204.67" fill="#94C200" stroke="#000" stroke-width="1.4" stroke-linejoin="miter"/>
<polygon points="1205,189 1212,203 1198,203" fill="#94C200" stroke="#000" stroke-width="1.4" stroke-linejoin="miter"/>
<polygon points="1189.67,186.33 1196.67,200.33 1182.67,200.33" fill="#94C200" stroke="#000" stroke-width="1.4" stroke-linejoin="miter"/>
<polygon points="1241.67,164.33 1248.67,150.33 1234.67,150.33" fill="#AA5CAA" stroke="#000" stroke-width="1.4" stroke-linejoin="miter"/>
<polygon points="1272,157 1279,143 1265,143" fill="#AA5CAA" stroke="#000" stroke-width="1.4" stroke-linejoin="miter"/>
<polygon points="1256.67,156.33 1263.67,142.33 1249.67,142.33" fill="#AA5CAA" stroke="#000" stroke-width="1.4" stroke-linejoin="miter"/>
<polygon points="1322.67,230.33 1329.67,237.33 1322.67,244.33 1315.67,237.33" fill="#F57235" stroke="#000" stroke-width="1.4" stroke-linejoin="miter"/>
<polygon points="1308.33,243.33 1315.33,250.33 1308.33,257.33 1301.33,250.33" fill="#F57235" stroke="#000" stroke-width="1.4" stroke-linejoin="miter"/>
<polygon points="1338.33,241 1345.33,248 1338.33,255 1331.33,248" fill="#F57235" stroke="#000" stroke-width="1.4" stroke-linejoin="miter"/>
<line x1="1078.9" y1="44.1" x2="1078.9" y2="335.6" stroke="#000" stroke-width="3"/>
<line x1="1067" y1="334.1" x2="1367.67" y2="334.1" stroke="#000" stroke-width="3"/>
<line x1="1067" y1="45.6" x2="1078.9" y2="45.6" stroke="#000" stroke-width="3"/>
<text transform="translate(1062.8 53.83) scale(0.93 1)" font-size="23" font-weight="bold" text-anchor="end">150</text>
<line x1="1067" y1="142" x2="1078.9" y2="142" stroke="#000" stroke-width="3"/>
<text transform="translate(1062.8 150.23) scale(0.93 1)" font-size="23" font-weight="bold" text-anchor="end">100</text>
<line x1="1067" y1="238" x2="1078.9" y2="238" stroke="#000" stroke-width="3"/>
<text transform="translate(1062.8 246.23) scale(0.93 1)" font-size="23" font-weight="bold" text-anchor="end">50</text>
<line x1="1067" y1="334.1" x2="1078.9" y2="334.1" stroke="#000" stroke-width="3"/>
<text transform="translate(1062.8 342.33) scale(0.93 1)" font-size="23" font-weight="bold" text-anchor="end">0</text>
<line x1="1123.33" y1="334.1" x2="1123.33" y2="346.1" stroke="#000" stroke-width="3"/>
<text x="1123.33" y="368.93" font-size="20.5" font-weight="bold" text-anchor="middle">zani</text>
<line x1="1189.33" y1="334.1" x2="1189.33" y2="346.1" stroke="#000" stroke-width="3"/>
<text x="1189.33" y="368.93" font-size="20.5" font-weight="bold" text-anchor="middle">tras</text>
<line x1="1256" y1="334.1" x2="1256" y2="346.1" stroke="#000" stroke-width="3"/>
<text x="1256" y="368.93" font-size="20.5" font-weight="bold" text-anchor="middle">pert</text>
<line x1="1322.67" y1="334.1" x2="1322.67" y2="346.1" stroke="#000" stroke-width="3"/>
<text x="1322.67" y="368.93" font-size="20.5" font-weight="bold" text-anchor="middle">t + p</text>
<polyline points="1123.5,72.5 1123.5,43.5 1323.5,43.5 1323.5,209.5" fill="none" stroke="#000" stroke-width="1.5" stroke-linejoin="miter"/>
<polyline points="1123.5,111.5 1123.5,85.5 1256.5,85.5 1256.5,128.5" fill="none" stroke="#000" stroke-width="1.5" stroke-linejoin="miter"/>
<polyline points="1123.5,195.5 1123.5,143.5 1189.5,143.5 1189.5,159.5" fill="none" stroke="#000" stroke-width="1.5" stroke-linejoin="miter"/>
<text x="1223" y="30.67" font-size="15" text-anchor="middle">p = 0.001</text>
<text x="1189.67" y="71.67" font-size="15" text-anchor="middle">p &lt; 0.001</text>
<text x="1127" y="130.67" font-size="15" text-anchor="start">p= 0.001</text>
<text transform="translate(1009.67 190.67) rotate(-90)" font-size="20.5" font-weight="bold" text-anchor="middle" textLength="325" lengthAdjust="spacingAndGlyphs">Cell Surface HER2 (% of control)</text>
<text x="952" y="37.5" font-size="51" font-weight="bold" text-anchor="start">b</text>
<rect x="1100" y="599" width="44.33" height="116.67" fill="#1A7CC0"/>
<rect x="1167" y="527" width="45" height="188.67" fill="#7DB928"/>
<rect x="1234.33" y="539.67" width="44.67" height="176" fill="#9C4797"/>
<rect x="1301" y="619" width="45" height="96.67" fill="#FA5C35"/>
<line x1="1122.67" y1="574" x2="1122.67" y2="625" stroke="#000" stroke-width="1.5"/>
<line x1="1111.17" y1="574" x2="1134.17" y2="574" stroke="#000" stroke-width="1.5"/>
<line x1="1111.17" y1="625" x2="1134.17" y2="625" stroke="#000" stroke-width="1.5"/>
<line x1="1189.33" y1="488.67" x2="1189.33" y2="565.33" stroke="#000" stroke-width="1.5"/>
<line x1="1177.83" y1="488.67" x2="1200.83" y2="488.67" stroke="#000" stroke-width="1.5"/>
<line x1="1177.83" y1="565.33" x2="1200.83" y2="565.33" stroke="#000" stroke-width="1.5"/>
<line x1="1256.67" y1="512.33" x2="1256.67" y2="567.33" stroke="#000" stroke-width="1.5"/>
<line x1="1245.17" y1="512.33" x2="1268.17" y2="512.33" stroke="#000" stroke-width="1.5"/>
<line x1="1245.17" y1="567.33" x2="1268.17" y2="567.33" stroke="#000" stroke-width="1.5"/>
<line x1="1323.67" y1="595.33" x2="1323.67" y2="643.33" stroke="#000" stroke-width="1.5"/>
<line x1="1312.17" y1="595.33" x2="1335.17" y2="595.33" stroke="#000" stroke-width="1.5"/>
<line x1="1312.17" y1="643.33" x2="1335.17" y2="643.33" stroke="#000" stroke-width="1.5"/>
<rect x="1116.92" y="576.92" width="11.5" height="11.5" fill="#1668B0" stroke="#000" stroke-width="1.4"/>
<rect x="1100.25" y="589.25" width="11.5" height="11.5" fill="#1668B0" stroke="#000" stroke-width="1.4"/>
<rect x="1132.92" y="593.92" width="11.5" height="11.5" fill="#1668B0" stroke="#000" stroke-width="1.4"/>
<rect x="1116.92" y="614.92" width="11.5" height="11.5" fill="#1668B0" stroke="#000" stroke-width="1.4"/>
<polygon points="1189.33,489 1196.33,503 1182.33,503" fill="#7DB928" stroke="#000" stroke-width="1.4" stroke-linejoin="miter"/>
<polygon points="1174.33,517.33 1181.33,531.33 1167.33,531.33" fill="#7DB928" stroke="#000" stroke-width="1.4" stroke-linejoin="miter"/>
<polygon points="1205,529.67 1212,543.67 1198,543.67" fill="#7DB928" stroke="#000" stroke-width="1.4" stroke-linejoin="miter"/>
<polygon points="1189.33,547 1196.33,561 1182.33,561" fill="#7DB928" stroke="#000" stroke-width="1.4" stroke-linejoin="miter"/>
<polygon points="1272,525.67 1279,511.67 1265,511.67" fill="#9C4797" stroke="#000" stroke-width="1.4" stroke-linejoin="miter"/>
<polygon points="1241.67,538.67 1248.67,524.67 1234.67,524.67" fill="#9C4797" stroke="#000" stroke-width="1.4" stroke-linejoin="miter"/>
<polygon points="1272,555.33 1279,541.33 1265,541.33" fill="#9C4797" stroke="#000" stroke-width="1.4" stroke-linejoin="miter"/>
<polygon points="1241.67,564.67 1248.67,550.67 1234.67,550.67" fill="#9C4797" stroke="#000" stroke-width="1.4" stroke-linejoin="miter"/>
<polygon points="1323.67,590.67 1330.67,597.67 1323.67,604.67 1316.67,597.67" fill="#FA5C35" stroke="#000" stroke-width="1.4" stroke-linejoin="miter"/>
<polygon points="1323.67,615 1330.67,622 1323.67,629 1316.67,622" fill="#FA5C35" stroke="#000" stroke-width="1.4" stroke-linejoin="miter"/>
<polygon points="1308.67,624.33 1315.67,631.33 1308.67,638.33 1301.67,631.33" fill="#FA5C35" stroke="#000" stroke-width="1.4" stroke-linejoin="miter"/>
<polygon points="1339.33,620 1346.33,627 1339.33,634 1332.33,627" fill="#FA5C35" stroke="#000" stroke-width="1.4" stroke-linejoin="miter"/>
<line x1="1078.17" y1="425.5" x2="1078.17" y2="717.17" stroke="#000" stroke-width="3"/>
<line x1="1066" y1="715.67" x2="1368.67" y2="715.67" stroke="#000" stroke-width="3"/>
<line x1="1066" y1="427" x2="1078.17" y2="427" stroke="#000" stroke-width="3"/>
<text transform="translate(1061.8 435.23) scale(0.93 1)" font-size="23" font-weight="bold" text-anchor="end">150</text>
<line x1="1066" y1="523.33" x2="1078.17" y2="523.33" stroke="#000" stroke-width="3"/>
<text transform="translate(1061.8 531.57) scale(0.93 1)" font-size="23" font-weight="bold" text-anchor="end">100</text>
<line x1="1066" y1="619.33" x2="1078.17" y2="619.33" stroke="#000" stroke-width="3"/>
<text transform="translate(1061.8 627.57) scale(0.93 1)" font-size="23" font-weight="bold" text-anchor="end">50</text>
<line x1="1066" y1="715.67" x2="1078.17" y2="715.67" stroke="#000" stroke-width="3"/>
<text transform="translate(1061.8 723.9) scale(0.93 1)" font-size="23" font-weight="bold" text-anchor="end">0</text>
<line x1="1122.67" y1="715.67" x2="1122.67" y2="727.67" stroke="#000" stroke-width="3"/>
<text x="1122.67" y="750.67" font-size="20.5" font-weight="bold" text-anchor="middle">zani</text>
<line x1="1189.33" y1="715.67" x2="1189.33" y2="727.67" stroke="#000" stroke-width="3"/>
<text x="1189.33" y="750.67" font-size="20.5" font-weight="bold" text-anchor="middle">tras</text>
<line x1="1256.67" y1="715.67" x2="1256.67" y2="727.67" stroke="#000" stroke-width="3"/>
<text x="1256.67" y="750.67" font-size="20.5" font-weight="bold" text-anchor="middle">pert</text>
<line x1="1323.67" y1="715.67" x2="1323.67" y2="727.67" stroke="#000" stroke-width="3"/>
<text x="1323.67" y="750.67" font-size="20.5" font-weight="bold" text-anchor="middle">t + p</text>
<polyline points="1122.5,441.5 1122.5,413.5 1256.5,413.5 1256.5,491.5" fill="none" stroke="#000" stroke-width="1.5" stroke-linejoin="miter"/>
<polyline points="1122.5,552.5 1122.5,468.5 1189.5,468.5 1189.5,481.5" fill="none" stroke="#000" stroke-width="1.5" stroke-linejoin="miter"/>
<text x="1187.67" y="400.67" font-size="15" text-anchor="middle">p = 0.02</text>
<text x="1128.67" y="456" font-size="15" text-anchor="start">p = 0.04</text>
<text transform="translate(1008.67 574.33) rotate(-90)" font-size="20.5" font-weight="bold" text-anchor="middle" textLength="327" lengthAdjust="spacingAndGlyphs">Cell Surface HER2 (% of control)</text>
<path d="M1498.76 197.31V212.51M1493.12 199.26L1504.41 210.55M1493.12 210.55L1504.41 199.26" stroke="#4B5F6B" stroke-width="1.7" fill="none"/>
<path d="M1508.45 197.31V212.51M1502.81 199.26L1514.1 210.55M1502.81 210.55L1514.1 199.26" stroke="#4B5F6B" stroke-width="1.7" fill="none"/>
<path d="M1518.14 197.31V212.51M1512.5 199.26L1523.78 210.55M1512.5 210.55L1523.78 199.26" stroke="#4B5F6B" stroke-width="1.7" fill="none"/>
<line x1="1491.53" y1="204.91" x2="1525.37" y2="204.91" stroke="#000" stroke-width="2"/>
<rect x="1542.02" y="260.93" width="15" height="15" fill="#1A7CC0"/>
<rect x="1542.02" y="264" width="15" height="15" fill="#1A7CC0"/>
<rect x="1542.02" y="279.84" width="15" height="15" fill="#1A7CC0"/>
<line x1="1541.98" y1="277" x2="1576.12" y2="277" stroke="#000" stroke-width="2"/>
<line x1="1559.05" y1="254.28" x2="1559.05" y2="300.42" stroke="#1A7CC0" stroke-width="2.4"/>
<line x1="1550.27" y1="254.28" x2="1568.14" y2="254.28" stroke="#1A7CC0" stroke-width="2.04" stroke-linecap="round"/>
<line x1="1550.27" y1="300.42" x2="1568.14" y2="300.42" stroke="#1A7CC0" stroke-width="2.04" stroke-linecap="round"/>
<rect x="1561.24" y="268.62" width="15" height="15" fill="#1A7CC0"/>
<line x1="1593.04" y1="224" x2="1626.88" y2="224" stroke="#000" stroke-width="2"/>
<line x1="1609.65" y1="176.61" x2="1609.65" y2="271.04" stroke="#94C200" stroke-width="2.4"/>
<line x1="1600.56" y1="176.61" x2="1618.59" y2="176.61" stroke="#94C200" stroke-width="2.04" stroke-linecap="round"/>
<line x1="1600.56" y1="271.04" x2="1618.59" y2="271.04" stroke="#94C200" stroke-width="2.04" stroke-linecap="round"/>
<polygon points="1609.96,195.6 1617.46,209.6 1602.46,209.6" fill="#94C200"/>
<polygon points="1600.27,230.05 1607.77,244.05 1592.77,244.05" fill="#94C200"/>
<polygon points="1619.19,226.05 1626.69,240.05 1611.69,240.05" fill="#94C200"/>
<line x1="1643.49" y1="205" x2="1677.63" y2="205" stroke="#000" stroke-width="2"/>
<line x1="1660.41" y1="119.39" x2="1660.41" y2="290.26" stroke="#AA5CAA" stroke-width="2.4"/>
<line x1="1651.62" y1="119.39" x2="1669.34" y2="119.39" stroke="#AA5CAA" stroke-width="2.04" stroke-linecap="round"/>
<line x1="1651.62" y1="290.26" x2="1669.34" y2="290.26" stroke="#AA5CAA" stroke-width="2.04" stroke-linecap="round"/>
<polygon points="1660.41,171.92 1667.91,157.92 1652.91,157.92" fill="#AA5CAA"/>
<polygon points="1651.18,236.36 1658.68,222.36 1643.68,222.36" fill="#AA5CAA"/>
<polygon points="1670.25,226.36 1677.75,212.36 1662.75,212.36" fill="#AA5CAA"/>
<line x1="1694.09" y1="277" x2="1728.08" y2="277" stroke="#000" stroke-width="2"/>
<line x1="1711.16" y1="232.74" x2="1711.16" y2="320.41" stroke="#F57235" stroke-width="2.4"/>
<line x1="1702.07" y1="232.74" x2="1720.1" y2="232.74" stroke="#F57235" stroke-width="2.04" stroke-linecap="round"/>
<line x1="1702.07" y1="320.41" x2="1720.1" y2="320.41" stroke="#F57235" stroke-width="2.04" stroke-linecap="round"/>
<polygon points="1701.62,255.33 1709.02,262.73 1701.62,270.13 1694.22,262.73" fill="#F57235"/>
<polygon points="1720.85,262.87 1728.25,270.27 1720.85,277.67 1713.45,270.27" fill="#F57235"/>
<polygon points="1711.16,289.17 1718.56,296.57 1711.16,303.97 1703.76,296.57" fill="#F57235"/>
<line x1="1474.6" y1="80.1" x2="1474.6" y2="329.4" stroke="#000" stroke-width="2.4"/>
<line x1="1473.4" y1="328.2" x2="1745.5" y2="328.2" stroke="#000" stroke-width="2.4"/>
<line x1="1464.3" y1="81" x2="1474.6" y2="81" stroke="#000" stroke-width="2.4"/>
<text transform="translate(1460.7 87.95) scale(0.95 1)" font-size="19.43" font-weight="bold" text-anchor="end">200</text>
<line x1="1464.3" y1="143.3" x2="1474.6" y2="143.3" stroke="#000" stroke-width="2.4"/>
<text transform="translate(1460.7 150.25) scale(0.95 1)" font-size="19.43" font-weight="bold" text-anchor="end">150</text>
<line x1="1464.3" y1="205" x2="1474.6" y2="205" stroke="#000" stroke-width="2.4"/>
<text transform="translate(1460.7 211.95) scale(0.95 1)" font-size="19.43" font-weight="bold" text-anchor="end">100</text>
<line x1="1464.3" y1="266.7" x2="1474.6" y2="266.7" stroke="#000" stroke-width="2.4"/>
<text transform="translate(1460.7 273.65) scale(0.95 1)" font-size="19.43" font-weight="bold" text-anchor="end">50</text>
<line x1="1464.3" y1="328.2" x2="1474.6" y2="328.2" stroke="#000" stroke-width="2.4"/>
<text transform="translate(1460.7 335.15) scale(0.95 1)" font-size="19.43" font-weight="bold" text-anchor="end">0</text>
<line x1="1507.99" y1="328.2" x2="1507.99" y2="338.4" stroke="#000" stroke-width="2.4"/>
<text x="1509.49" y="357.09" font-size="19.3" font-weight="bold" text-anchor="middle">nc</text>
<line x1="1558.75" y1="328.2" x2="1558.75" y2="338.4" stroke="#000" stroke-width="2.4"/>
<text x="1560.25" y="357.09" font-size="19.3" font-weight="bold" text-anchor="middle">zani</text>
<line x1="1609.65" y1="328.2" x2="1609.65" y2="338.4" stroke="#000" stroke-width="2.4"/>
<text x="1611.15" y="357.09" font-size="19.3" font-weight="bold" text-anchor="middle">tras</text>
<line x1="1660.41" y1="328.2" x2="1660.41" y2="338.4" stroke="#000" stroke-width="2.4"/>
<text x="1661.91" y="357.09" font-size="19.3" font-weight="bold" text-anchor="middle">pert</text>
<line x1="1710.7" y1="328.2" x2="1710.7" y2="338.4" stroke="#000" stroke-width="2.4"/>
<text x="1712.2" y="357.09" font-size="19.3" font-weight="bold" text-anchor="middle">t + p</text>
<polyline points="1507.5,193.5 1507.5,180.5 1560.5,180.5 1560.5,236.5" fill="none" stroke="#555" stroke-width="0.8" stroke-linejoin="miter"/>
<text x="1533.21" y="171.53" font-size="13" text-anchor="middle">p = 0.08</text>
<text transform="translate(1411.7 204.2) rotate(-90)" font-size="20.5" font-weight="bold" text-anchor="middle" textLength="185" lengthAdjust="spacingAndGlyphs">HER2 (% of control)</text>
<text x="1365" y="43.5" font-size="51" font-weight="bold" text-anchor="start">c</text>
<path d="M1495.38 585.55V599.95M1490.03 587.4L1500.73 598.1M1490.03 598.1L1500.73 587.4" stroke="#000" stroke-width="2.4" fill="none"/>
<path d="M1504.92 585.55V599.95M1499.57 587.4L1510.26 598.1M1499.57 598.1L1510.26 587.4" stroke="#000" stroke-width="2.4" fill="none"/>
<path d="M1514.6 585.55V599.95M1509.26 587.4L1519.95 598.1M1509.26 598.1L1519.95 587.4" stroke="#000" stroke-width="2.4" fill="none"/>
<line x1="1488.46" y1="593" x2="1521.83" y2="593" stroke="#000" stroke-width="2"/>
<line x1="1540.29" y1="626" x2="1572.28" y2="626" stroke="#000" stroke-width="2"/>
<line x1="1556.44" y1="607.67" x2="1556.44" y2="643.5" stroke="#1A7CC0" stroke-width="2.4"/>
<line x1="1547.5" y1="607.67" x2="1565.22" y2="607.67" stroke="#1A7CC0" stroke-width="2.04" stroke-linecap="round"/>
<line x1="1547.5" y1="643.5" x2="1565.22" y2="643.5" stroke="#1A7CC0" stroke-width="2.04" stroke-linecap="round"/>
<rect x="1548.94" y="609.09" width="15" height="15" fill="#1A7CC0"/>
<rect x="1539.4" y="622.01" width="15" height="15" fill="#1A7CC0"/>
<rect x="1558.17" y="622.01" width="15" height="15" fill="#1A7CC0"/>
<line x1="1589.97" y1="601" x2="1624.26" y2="601" stroke="#000" stroke-width="2"/>
<line x1="1607.19" y1="536.61" x2="1607.19" y2="665.04" stroke="#94C200" stroke-width="2.4"/>
<line x1="1598.26" y1="536.61" x2="1616.28" y2="536.61" stroke="#94C200" stroke-width="2.04" stroke-linecap="round"/>
<line x1="1598.26" y1="665.04" x2="1616.28" y2="665.04" stroke="#94C200" stroke-width="2.04" stroke-linecap="round"/>
<polygon points="1597.66,573.45 1605.16,587.45 1590.16,587.45" fill="#94C200"/>
<polygon points="1616.88,585.75 1624.38,599.75 1609.38,599.75" fill="#94C200"/>
<polygon points="1607.19,623.28 1614.69,637.28 1599.69,637.28" fill="#94C200"/>
<line x1="1641.18" y1="597" x2="1675.32" y2="597" stroke="#000" stroke-width="2"/>
<line x1="1658.41" y1="578.91" x2="1658.41" y2="614.59" stroke="#AA5CAA" stroke-width="2.4"/>
<line x1="1649.47" y1="578.91" x2="1667.34" y2="578.91" stroke="#AA5CAA" stroke-width="2.04" stroke-linecap="round"/>
<line x1="1649.47" y1="614.59" x2="1667.34" y2="614.59" stroke="#AA5CAA" stroke-width="2.04" stroke-linecap="round"/>
<polygon points="1648.87,612.21 1656.37,598.21 1641.37,598.21" fill="#AA5CAA"/>
<polygon points="1658.41,599.29 1665.91,585.29 1650.91,585.29" fill="#AA5CAA"/>
<polygon points="1667.63,599.29 1675.13,585.29 1660.13,585.29" fill="#AA5CAA"/>
<line x1="1692.24" y1="654" x2="1726.08" y2="654" stroke="#000" stroke-width="2"/>
<line x1="1709.31" y1="623.51" x2="1709.31" y2="685.64" stroke="#F57235" stroke-width="2.4"/>
<line x1="1700.22" y1="623.51" x2="1718.25" y2="623.51" stroke="#F57235" stroke-width="2.04" stroke-linecap="round"/>
<line x1="1700.22" y1="685.64" x2="1718.25" y2="685.64" stroke="#F57235" stroke-width="2.04" stroke-linecap="round"/>
<polygon points="1699.62,634.57 1707.02,641.97 1699.62,649.37 1692.22,641.97" fill="#F57235"/>
<polygon points="1718.7,647.02 1726.1,654.42 1718.7,661.82 1711.3,654.42" fill="#F57235"/>
<polygon points="1699.62,659.33 1707.02,666.73 1699.62,674.13 1692.22,666.73" fill="#F57235"/>
<line x1="1471.7" y1="467.55" x2="1471.7" y2="717.35" stroke="#000" stroke-width="2.3"/>
<line x1="1470.55" y1="716.2" x2="1743.5" y2="716.2" stroke="#000" stroke-width="2.3"/>
<line x1="1461" y1="468.7" x2="1471.7" y2="468.7" stroke="#000" stroke-width="2.3"/>
<text transform="translate(1457.4 475.77) scale(0.95 1)" font-size="19.74" font-weight="bold" text-anchor="end">200</text>
<line x1="1461" y1="530.7" x2="1471.7" y2="530.7" stroke="#000" stroke-width="2.3"/>
<text transform="translate(1457.4 537.77) scale(0.95 1)" font-size="19.74" font-weight="bold" text-anchor="end">150</text>
<line x1="1461" y1="592.3" x2="1471.7" y2="592.3" stroke="#000" stroke-width="2.3"/>
<text transform="translate(1457.4 599.37) scale(0.95 1)" font-size="19.74" font-weight="bold" text-anchor="end">100</text>
<line x1="1461" y1="654.3" x2="1471.7" y2="654.3" stroke="#000" stroke-width="2.3"/>
<text transform="translate(1457.4 661.37) scale(0.95 1)" font-size="19.74" font-weight="bold" text-anchor="end">50</text>
<line x1="1461" y1="716.2" x2="1471.7" y2="716.2" stroke="#000" stroke-width="2.3"/>
<text transform="translate(1457.4 723.27) scale(0.95 1)" font-size="19.74" font-weight="bold" text-anchor="end">0</text>
<line x1="1504.92" y1="716.2" x2="1504.92" y2="726.7" stroke="#000" stroke-width="2.3"/>
<text x="1504.92" y="747.32" font-size="18.8" font-weight="bold" text-anchor="middle">nc</text>
<line x1="1555.82" y1="716.2" x2="1555.82" y2="726.7" stroke="#000" stroke-width="2.3"/>
<text x="1555.82" y="747.32" font-size="18.8" font-weight="bold" text-anchor="middle">zani</text>
<line x1="1606.88" y1="716.2" x2="1606.88" y2="726.7" stroke="#000" stroke-width="2.3"/>
<text x="1606.88" y="747.32" font-size="18.8" font-weight="bold" text-anchor="middle">tras</text>
<line x1="1657.95" y1="716.2" x2="1657.95" y2="726.7" stroke="#000" stroke-width="2.3"/>
<text x="1657.95" y="747.32" font-size="18.8" font-weight="bold" text-anchor="middle">pert</text>
<line x1="1709.16" y1="716.2" x2="1709.16" y2="726.7" stroke="#000" stroke-width="2.3"/>
<text x="1709.16" y="747.32" font-size="18.8" font-weight="bold" text-anchor="middle">t + p</text>
<polyline points="1502.5,577.5 1502.5,559.5 1549.5,559.5 1549.5,593.5" fill="none" stroke="#222" stroke-width="1.2" stroke-linejoin="miter"/>
<polyline points="1503.5,519.5 1503.5,502.5 1700.5,502.5 1700.5,617.5" fill="none" stroke="#222" stroke-width="1.2" stroke-linejoin="miter"/>
<text x="1525.91" y="548.46" font-size="16.3" text-anchor="middle">p = 0.06</text>
<text x="1602" y="491" font-size="16.3" text-anchor="middle">p = 0.04</text>
<text transform="translate(1408.3 592.8) rotate(-90)" font-size="20.5" font-weight="bold" text-anchor="middle" textLength="161" lengthAdjust="spacingAndGlyphs">HER2 (% control)</text>
<path d="M182.61 934.92V948.12M177.71 936.62L187.51 946.42M177.71 946.42L187.51 936.62" stroke="#000" stroke-width="2.4" fill="none"/>
<path d="M192.6 934.92V948.12M187.7 936.62L197.5 946.42M187.7 946.42L197.5 936.62" stroke="#000" stroke-width="2.4" fill="none"/>
<path d="M202.29 934.92V948.12M197.39 936.62L207.19 946.42M197.39 946.42L207.19 936.62" stroke="#000" stroke-width="2.4" fill="none"/>
<line x1="177.38" y1="942" x2="207.67" y2="942" stroke="#000" stroke-width="1.9"/>
<line x1="223.36" y1="1001" x2="254.89" y2="1001" stroke="#000" stroke-width="1.9"/>
<line x1="238.9" y1="976.43" x2="238.9" y2="1025.8" stroke="#1A7CC0" stroke-width="2.1"/>
<line x1="231.04" y1="976.43" x2="247.06" y2="976.43" stroke="#1A7CC0" stroke-width="1.78" stroke-linecap="round"/>
<line x1="231.04" y1="1025.8" x2="247.06" y2="1025.8" stroke="#1A7CC0" stroke-width="1.78" stroke-linecap="round"/>
<rect x="223.38" y="983.99" width="13.8" height="13.8" fill="#1A7CC0"/>
<rect x="223.38" y="1004.14" width="13.8" height="13.8" fill="#1A7CC0"/>
<rect x="241.07" y="994.29" width="13.8" height="13.8" fill="#1A7CC0"/>
<line x1="269.96" y1="971" x2="301.18" y2="971" stroke="#000" stroke-width="1.9"/>
<line x1="285.34" y1="946.44" x2="285.34" y2="995.81" stroke="#94C200" stroke-width="2.1"/>
<line x1="277.48" y1="946.44" x2="293.51" y2="946.44" stroke="#94C200" stroke-width="1.78" stroke-linecap="round"/>
<line x1="277.48" y1="995.81" x2="293.51" y2="995.81" stroke="#94C200" stroke-width="1.78" stroke-linecap="round"/>
<polygon points="276.58,954.45 283.38,967.65 269.78,967.65" fill="#94C200"/>
<polygon points="294.26,964.6 301.06,977.8 287.46,977.8" fill="#94C200"/>
<polygon points="276.58,974.6 283.38,987.8 269.78,987.8" fill="#94C200"/>
<line x1="316.1" y1="951" x2="347.63" y2="951" stroke="#000" stroke-width="1.9"/>
<line x1="331.94" y1="908.15" x2="331.94" y2="994.27" stroke="#AA5CAA" stroke-width="2.1"/>
<line x1="323.93" y1="908.15" x2="340.11" y2="908.15" stroke="#AA5CAA" stroke-width="1.78" stroke-linecap="round"/>
<line x1="323.93" y1="994.27" x2="340.11" y2="994.27" stroke="#AA5CAA" stroke-width="1.78" stroke-linecap="round"/>
<polygon points="331.94,936.89 338.74,923.69 325.14,923.69" fill="#AA5CAA"/>
<polygon points="323.33,967.65 330.13,954.45 316.53,954.45" fill="#AA5CAA"/>
<polygon points="340.71,967.65 347.51,954.45 333.91,954.45" fill="#AA5CAA"/>
<line x1="363.01" y1="1021" x2="393.77" y2="1021" stroke="#000" stroke-width="1.9"/>
<line x1="378.39" y1="996.12" x2="378.39" y2="1046.1" stroke="#F57235" stroke-width="2.1"/>
<line x1="370.22" y1="996.12" x2="386.25" y2="996.12" stroke="#F57235" stroke-width="1.78" stroke-linecap="round"/>
<line x1="370.22" y1="1046.1" x2="386.25" y2="1046.1" stroke="#F57235" stroke-width="1.78" stroke-linecap="round"/>
<polygon points="369.62,1004.24 376.42,1011.04 369.62,1017.84 362.82,1011.04" fill="#F57235"/>
<polygon points="387.62,1014.39 394.42,1021.19 387.62,1027.99 380.82,1021.19" fill="#F57235"/>
<polygon points="369.62,1024.38 376.42,1031.18 369.62,1037.98 362.82,1031.18" fill="#F57235"/>
<line x1="161.8" y1="839.58" x2="161.8" y2="1067.53" stroke="#000" stroke-width="2.25"/>
<line x1="160.68" y1="1066.4" x2="409.9" y2="1066.4" stroke="#000" stroke-width="2.25"/>
<line x1="152.3" y1="840.7" x2="161.8" y2="840.7" stroke="#000" stroke-width="2.25"/>
<text transform="translate(148.7 847.29) scale(0.935 1)" font-size="18.4" font-weight="bold" text-anchor="end">200</text>
<line x1="152.3" y1="890.77" x2="161.8" y2="890.77" stroke="#000" stroke-width="2.25"/>
<text transform="translate(148.7 897.35) scale(0.935 1)" font-size="18.4" font-weight="bold" text-anchor="end">150</text>
<line x1="152.3" y1="941.21" x2="161.8" y2="941.21" stroke="#000" stroke-width="2.25"/>
<text transform="translate(148.7 947.8) scale(0.935 1)" font-size="18.4" font-weight="bold" text-anchor="end">100</text>
<line x1="152.3" y1="991.04" x2="161.8" y2="991.04" stroke="#000" stroke-width="2.25"/>
<text transform="translate(148.7 997.63) scale(0.935 1)" font-size="18.4" font-weight="bold" text-anchor="end">50</text>
<line x1="152.3" y1="1041.18" x2="161.8" y2="1041.18" stroke="#000" stroke-width="2.25"/>
<text transform="translate(148.7 1047.77) scale(0.935 1)" font-size="18.4" font-weight="bold" text-anchor="end">0</text>
<line x1="192.6" y1="1066.4" x2="192.6" y2="1075.9" stroke="#000" stroke-width="2.25"/>
<text x="192.6" y="1094.55" font-size="17.2" font-weight="bold" text-anchor="middle">nc</text>
<line x1="238.9" y1="1066.4" x2="238.9" y2="1075.9" stroke="#000" stroke-width="2.25"/>
<text x="238.9" y="1094.55" font-size="17.2" font-weight="bold" text-anchor="middle">zani</text>
<line x1="285.04" y1="1066.4" x2="285.04" y2="1075.9" stroke="#000" stroke-width="2.25"/>
<text x="285.04" y="1094.55" font-size="17.2" font-weight="bold" text-anchor="middle">tras</text>
<line x1="331.94" y1="1066.4" x2="331.94" y2="1075.9" stroke="#000" stroke-width="2.25"/>
<text x="331.94" y="1094.55" font-size="17.2" font-weight="bold" text-anchor="middle">pert</text>
<line x1="378.08" y1="1066.4" x2="378.08" y2="1075.9" stroke="#000" stroke-width="2.25"/>
<text x="378.08" y="1094.55" font-size="17.2" font-weight="bold" text-anchor="middle">t + p</text>
<line x1="166.3" y1="1041.18" x2="406.84" y2="1041.18" stroke="#000" stroke-width="2.1" stroke-linecap="round" stroke-dasharray="0.01 4.52"/>
<polyline points="196.5,929.5 196.5,917.5 236.5,917.5 236.5,962.5" fill="none" stroke="#111" stroke-width="1.2" stroke-linejoin="miter"/>
<polyline points="196.5,895.5 196.5,867.5 375.5,867.5 375.5,980.5" fill="none" stroke="#111" stroke-width="1.2" stroke-linejoin="miter"/>
<text x="216.59" y="907.38" font-size="15" text-anchor="middle">p = 0.06</text>
<text x="286.33" y="856.67" font-size="15" text-anchor="middle">p = 0.03</text>
<path d="M522.61 961.07V974.27M517.71 962.77L527.51 972.57M517.71 972.57L527.51 962.77" stroke="#000" stroke-width="2.4" fill="none"/>
<path d="M532.6 961.07V974.27M527.7 962.77L537.5 972.57M527.7 972.57L537.5 962.77" stroke="#000" stroke-width="2.4" fill="none"/>
<path d="M542.29 961.07V974.27M537.39 962.77L547.19 972.57M537.39 972.57L547.19 962.77" stroke="#000" stroke-width="2.4" fill="none"/>
<line x1="517.38" y1="968" x2="547.67" y2="968" stroke="#000" stroke-width="1.9"/>
<line x1="563.36" y1="1003" x2="594.89" y2="1003" stroke="#000" stroke-width="1.9"/>
<line x1="578.9" y1="983.51" x2="578.9" y2="1015.8" stroke="#1A7CC0" stroke-width="2.1"/>
<line x1="571.04" y1="983.51" x2="587.06" y2="983.51" stroke="#1A7CC0" stroke-width="1.78" stroke-linecap="round"/>
<line x1="571.04" y1="1015.8" x2="587.06" y2="1015.8" stroke="#1A7CC0" stroke-width="1.78" stroke-linecap="round"/>
<rect x="572.15" y="986.14" width="13.8" height="13.8" fill="#1A7CC0"/>
<rect x="563.23" y="998.91" width="13.8" height="13.8" fill="#1A7CC0"/>
<rect x="581.07" y="993.06" width="13.8" height="13.8" fill="#1A7CC0"/>
<line x1="609.96" y1="980" x2="641.03" y2="980" stroke="#000" stroke-width="1.9"/>
<line x1="625.34" y1="922.6" x2="625.34" y2="1037.95" stroke="#94C200" stroke-width="2.1"/>
<line x1="617.48" y1="922.6" x2="633.51" y2="922.6" stroke="#94C200" stroke-width="1.78" stroke-linecap="round"/>
<line x1="617.48" y1="1037.95" x2="633.51" y2="1037.95" stroke="#94C200" stroke-width="1.78" stroke-linecap="round"/>
<polygon points="625.34,948.76 632.14,961.96 618.54,961.96" fill="#94C200"/>
<polygon points="634.26,980.6 641.06,993.8 627.46,993.8" fill="#94C200"/>
<polygon points="616.58,993.36 623.38,1006.56 609.78,1006.56" fill="#94C200"/>
<line x1="656.1" y1="961" x2="687.63" y2="961" stroke="#000" stroke-width="1.9"/>
<line x1="671.94" y1="877.39" x2="671.94" y2="1044.1" stroke="#AA5CAA" stroke-width="2.1"/>
<line x1="663.93" y1="877.39" x2="680.11" y2="877.39" stroke="#AA5CAA" stroke-width="1.78" stroke-linecap="round"/>
<line x1="663.93" y1="1044.1" x2="680.11" y2="1044.1" stroke="#AA5CAA" stroke-width="1.78" stroke-linecap="round"/>
<polygon points="671.94,928.13 678.74,914.93 665.14,914.93" fill="#AA5CAA"/>
<polygon points="663.33,986.57 670.13,973.37 656.53,973.37" fill="#AA5CAA"/>
<polygon points="680.71,986.57 687.51,973.37 673.91,973.37" fill="#AA5CAA"/>
<line x1="703.01" y1="1015" x2="733.77" y2="1015" stroke="#000" stroke-width="1.9"/>
<line x1="718.39" y1="990.27" x2="718.39" y2="1039.18" stroke="#F57235" stroke-width="2.1"/>
<line x1="710.22" y1="990.27" x2="726.25" y2="990.27" stroke="#F57235" stroke-width="1.78" stroke-linecap="round"/>
<line x1="710.22" y1="1039.18" x2="726.25" y2="1039.18" stroke="#F57235" stroke-width="1.78" stroke-linecap="round"/>
<polygon points="709.62,999.32 716.42,1006.12 709.62,1012.92 702.82,1006.12" fill="#F57235"/>
<polygon points="727.62,1005.77 734.42,1012.57 727.62,1019.37 720.82,1012.57" fill="#F57235"/>
<polygon points="709.62,1018.54 716.42,1025.34 709.62,1032.14 702.82,1025.34" fill="#F57235"/>
<line x1="501.6" y1="837.58" x2="501.6" y2="1064.61" stroke="#000" stroke-width="2.25"/>
<line x1="500.48" y1="1063.48" x2="749.9" y2="1063.48" stroke="#000" stroke-width="2.25"/>
<line x1="492.3" y1="838.7" x2="501.6" y2="838.7" stroke="#000" stroke-width="2.25"/>
<text transform="translate(488.7 845.29) scale(0.935 1)" font-size="18.4" font-weight="bold" text-anchor="end">300</text>
<line x1="492.3" y1="903.07" x2="501.6" y2="903.07" stroke="#000" stroke-width="2.25"/>
<text transform="translate(488.7 909.66) scale(0.935 1)" font-size="18.4" font-weight="bold" text-anchor="end">200</text>
<line x1="492.3" y1="967.36" x2="501.6" y2="967.36" stroke="#000" stroke-width="2.25"/>
<text transform="translate(488.7 973.95) scale(0.935 1)" font-size="18.4" font-weight="bold" text-anchor="end">100</text>
<line x1="492.3" y1="1031.8" x2="501.6" y2="1031.8" stroke="#000" stroke-width="2.25"/>
<text transform="translate(488.7 1038.39) scale(0.935 1)" font-size="18.4" font-weight="bold" text-anchor="end">0</text>
<line x1="532.29" y1="1063.48" x2="532.29" y2="1072.98" stroke="#000" stroke-width="2.25"/>
<text x="532.29" y="1092.24" font-size="17.2" font-weight="bold" text-anchor="middle">nc</text>
<line x1="578.74" y1="1063.48" x2="578.74" y2="1072.98" stroke="#000" stroke-width="2.25"/>
<text x="578.74" y="1092.24" font-size="17.2" font-weight="bold" text-anchor="middle">zani</text>
<line x1="625.04" y1="1063.48" x2="625.04" y2="1072.98" stroke="#000" stroke-width="2.25"/>
<text x="625.04" y="1092.24" font-size="17.2" font-weight="bold" text-anchor="middle">tras</text>
<line x1="671.94" y1="1063.48" x2="671.94" y2="1072.98" stroke="#000" stroke-width="2.25"/>
<text x="671.94" y="1092.24" font-size="17.2" font-weight="bold" text-anchor="middle">pert</text>
<line x1="718.08" y1="1063.48" x2="718.08" y2="1072.98" stroke="#000" stroke-width="2.25"/>
<text x="718.08" y="1092.24" font-size="17.2" font-weight="bold" text-anchor="middle">t + p</text>
<line x1="506.15" y1="1031.8" x2="751.46" y2="1031.8" stroke="#000" stroke-width="2.1" stroke-linecap="round" stroke-dasharray="0.01 4.52"/>
<polyline points="534.5,938.5 534.5,926.5 579.5,926.5 579.5,951.5" fill="none" stroke="#333" stroke-width="1.2" stroke-linejoin="miter"/>
<polyline points="535.5,899.5 535.5,854.5 717.5,854.5 717.5,959.5" fill="none" stroke="#333" stroke-width="1.2" stroke-linejoin="miter"/>
<text x="557.06" y="916.91" font-size="15" text-anchor="middle">p = 0.06</text>
<text x="626.83" y="843.33" font-size="15" text-anchor="middle">p = 0.04</text>
<path d="M863.37 960.3V973.5M858.47 962L868.27 971.8M858.47 971.8L868.27 962" stroke="#000" stroke-width="2.4" fill="none"/>
<path d="M873.06 960.3V973.5M868.16 962L877.96 971.8M868.16 971.8L877.96 962" stroke="#000" stroke-width="2.4" fill="none"/>
<path d="M882.75 960.3V973.5M877.85 962L887.65 971.8M877.85 971.8L887.65 962" stroke="#000" stroke-width="2.4" fill="none"/>
<line x1="857.68" y1="967" x2="888.44" y2="967" stroke="#000" stroke-width="1.9"/>
<line x1="904.28" y1="996" x2="935.66" y2="996" stroke="#000" stroke-width="1.9"/>
<line x1="919.97" y1="975.82" x2="919.97" y2="1013.34" stroke="#1A7CC0" stroke-width="2.1"/>
<line x1="912.11" y1="975.82" x2="927.83" y2="975.82" stroke="#1A7CC0" stroke-width="1.78" stroke-linecap="round"/>
<line x1="912.11" y1="1013.34" x2="927.83" y2="1013.34" stroke="#1A7CC0" stroke-width="1.78" stroke-linecap="round"/>
<rect x="913.07" y="978.91" width="13.8" height="13.8" fill="#1A7CC0"/>
<rect x="904.15" y="991.99" width="13.8" height="13.8" fill="#1A7CC0"/>
<rect x="921.84" y="991.99" width="13.8" height="13.8" fill="#1A7CC0"/>
<line x1="951.19" y1="977" x2="982.57" y2="977" stroke="#000" stroke-width="1.9"/>
<line x1="966.88" y1="920.45" x2="966.88" y2="1033.49" stroke="#94C200" stroke-width="2.1"/>
<line x1="959.02" y1="920.45" x2="974.74" y2="920.45" stroke="#94C200" stroke-width="1.78" stroke-linecap="round"/>
<line x1="959.02" y1="1033.49" x2="974.74" y2="1033.49" stroke="#94C200" stroke-width="1.78" stroke-linecap="round"/>
<polygon points="966.88,947.53 973.68,960.73 960.08,960.73" fill="#94C200"/>
<polygon points="966.88,973.68 973.68,986.88 960.08,986.88" fill="#94C200"/>
<polygon points="966.88,993.06 973.68,1006.26 960.08,1006.26" fill="#94C200"/>
<line x1="998.1" y1="962" x2="1029.17" y2="962" stroke="#000" stroke-width="1.9"/>
<line x1="1013.48" y1="870" x2="1013.48" y2="1054.1" stroke="#AA5CAA" stroke-width="2.1"/>
<line x1="1005.93" y1="870" x2="1021.65" y2="870" stroke="#AA5CAA" stroke-width="1.78" stroke-linecap="round"/>
<line x1="1005.93" y1="1054.1" x2="1021.65" y2="1054.1" stroke="#AA5CAA" stroke-width="1.78" stroke-linecap="round"/>
<polygon points="1013.48,926.74 1020.28,913.54 1006.68,913.54" fill="#AA5CAA"/>
<polygon points="1013.48,978.88 1020.28,965.68 1006.68,965.68" fill="#AA5CAA"/>
<polygon points="1013.48,998.1 1020.28,984.9 1006.68,984.9" fill="#AA5CAA"/>
<line x1="1044.86" y1="1010" x2="1076.08" y2="1010" stroke="#000" stroke-width="1.9"/>
<line x1="1060.24" y1="1000.27" x2="1060.24" y2="1019.5" stroke="#F57235" stroke-width="2.1"/>
<line x1="1052.53" y1="1000.27" x2="1068.56" y2="1000.27" stroke="#F57235" stroke-width="1.78" stroke-linecap="round"/>
<line x1="1052.53" y1="1019.5" x2="1068.56" y2="1019.5" stroke="#F57235" stroke-width="1.78" stroke-linecap="round"/>
<polygon points="1060.24,998.08 1067.04,1004.88 1060.24,1011.68 1053.44,1004.88" fill="#F57235"/>
<polygon points="1051.47,1003.93 1058.27,1010.73 1051.47,1017.53 1044.67,1010.73" fill="#F57235"/>
<polygon points="1069.16,1003.93 1075.96,1010.73 1069.16,1017.53 1062.36,1010.73" fill="#F57235"/>
<line x1="841.8" y1="834.17" x2="841.8" y2="1064.61" stroke="#000" stroke-width="2.25"/>
<line x1="840.67" y1="1063.48" x2="1091.9" y2="1063.48" stroke="#000" stroke-width="2.25"/>
<line x1="832.3" y1="835.3" x2="841.8" y2="835.3" stroke="#000" stroke-width="2.25"/>
<text transform="translate(828.7 841.89) scale(0.935 1)" font-size="18.4" font-weight="bold" text-anchor="end">300</text>
<line x1="832.3" y1="900.76" x2="841.8" y2="900.76" stroke="#000" stroke-width="2.25"/>
<text transform="translate(828.7 907.35) scale(0.935 1)" font-size="18.4" font-weight="bold" text-anchor="end">200</text>
<line x1="832.3" y1="966.13" x2="841.8" y2="966.13" stroke="#000" stroke-width="2.25"/>
<text transform="translate(828.7 972.72) scale(0.935 1)" font-size="18.4" font-weight="bold" text-anchor="end">100</text>
<line x1="832.3" y1="1031.49" x2="841.8" y2="1031.49" stroke="#000" stroke-width="2.25"/>
<text transform="translate(828.7 1038.08) scale(0.935 1)" font-size="18.4" font-weight="bold" text-anchor="end">0</text>
<line x1="872.76" y1="1063.48" x2="872.76" y2="1072.98" stroke="#000" stroke-width="2.25"/>
<text x="872.76" y="1092.24" font-size="17.2" font-weight="bold" text-anchor="middle">nc</text>
<line x1="919.66" y1="1063.48" x2="919.66" y2="1072.98" stroke="#000" stroke-width="2.25"/>
<text x="919.66" y="1092.24" font-size="17.2" font-weight="bold" text-anchor="middle">zani</text>
<line x1="966.57" y1="1063.48" x2="966.57" y2="1072.98" stroke="#000" stroke-width="2.25"/>
<text x="966.57" y="1092.24" font-size="17.2" font-weight="bold" text-anchor="middle">tras</text>
<line x1="1013.02" y1="1063.48" x2="1013.02" y2="1072.98" stroke="#000" stroke-width="2.25"/>
<text x="1013.02" y="1092.24" font-size="17.2" font-weight="bold" text-anchor="middle">pert</text>
<line x1="1060.24" y1="1063.48" x2="1060.24" y2="1072.98" stroke="#000" stroke-width="2.25"/>
<text x="1060.24" y="1092.24" font-size="17.2" font-weight="bold" text-anchor="middle">t + p</text>
<line x1="846.15" y1="1031.49" x2="1089.92" y2="1031.49" stroke="#000" stroke-width="2.1" stroke-linecap="round" stroke-dasharray="0.01 4.52"/>
<polyline points="870.5,931.5 870.5,919.5 919.5,919.5 919.5,950.5" fill="none" stroke="#111" stroke-width="1.2" stroke-linejoin="miter"/>
<polyline points="870.5,886.5 870.5,859.5 1060.5,859.5 1060.5,982.5" fill="none" stroke="#111" stroke-width="1.2" stroke-linejoin="miter"/>
<text x="895.36" y="908.76" font-size="15" text-anchor="middle">p = 0.06</text>
<text x="966" y="849.33" font-size="15" text-anchor="middle">p = 0.03</text>
<path d="M1211.22 942.92V956.12M1206.32 944.62L1216.12 954.42M1206.32 954.42L1216.12 944.62" stroke="#000" stroke-width="2.4" fill="none"/>
<path d="M1220.76 942.92V956.12M1215.86 944.62L1225.66 954.42M1215.86 954.42L1225.66 944.62" stroke="#000" stroke-width="2.4" fill="none"/>
<path d="M1230.75 942.92V956.12M1225.85 944.62L1235.65 954.42M1225.85 954.42L1235.65 944.62" stroke="#000" stroke-width="2.4" fill="none"/>
<line x1="1205.38" y1="950" x2="1236.6" y2="950" stroke="#000" stroke-width="1.9"/>
<line x1="1252.29" y1="992" x2="1284.12" y2="992" stroke="#000" stroke-width="1.9"/>
<line x1="1267.97" y1="974.59" x2="1267.97" y2="1007.35" stroke="#1A7CC0" stroke-width="2.1"/>
<line x1="1260.11" y1="974.59" x2="1275.99" y2="974.59" stroke="#1A7CC0" stroke-width="1.78" stroke-linecap="round"/>
<line x1="1260.11" y1="1007.35" x2="1275.99" y2="1007.35" stroke="#1A7CC0" stroke-width="1.78" stroke-linecap="round"/>
<rect x="1261.07" y="974.91" width="13.8" height="13.8" fill="#1A7CC0"/>
<rect x="1252.31" y="988.14" width="13.8" height="13.8" fill="#1A7CC0"/>
<rect x="1270.15" y="988.14" width="13.8" height="13.8" fill="#1A7CC0"/>
<line x1="1299.66" y1="983" x2="1331.03" y2="983" stroke="#000" stroke-width="1.9"/>
<line x1="1315.04" y1="955.05" x2="1315.04" y2="1011.81" stroke="#94C200" stroke-width="2.1"/>
<line x1="1307.02" y1="955.05" x2="1323.2" y2="955.05" stroke="#94C200" stroke-width="1.78" stroke-linecap="round"/>
<line x1="1307.02" y1="1011.81" x2="1323.2" y2="1011.81" stroke="#94C200" stroke-width="1.78" stroke-linecap="round"/>
<polygon points="1306.42,965.37 1313.22,978.57 1299.62,978.57" fill="#94C200"/>
<polygon points="1324.11,977.21 1330.91,990.41 1317.31,990.41" fill="#94C200"/>
<polygon points="1306.42,988.44 1313.22,1001.64 1299.62,1001.64" fill="#94C200"/>
<line x1="1346.56" y1="964" x2="1377.94" y2="964" stroke="#000" stroke-width="1.9"/>
<line x1="1362.25" y1="892.77" x2="1362.25" y2="1035.8" stroke="#AA5CAA" stroke-width="2.1"/>
<line x1="1354.39" y1="892.77" x2="1370.42" y2="892.77" stroke="#AA5CAA" stroke-width="1.78" stroke-linecap="round"/>
<line x1="1354.39" y1="1035.8" x2="1370.42" y2="1035.8" stroke="#AA5CAA" stroke-width="1.78" stroke-linecap="round"/>
<polygon points="1362.25,943.35 1369.05,930.15 1355.45,930.15" fill="#AA5CAA"/>
<polygon points="1362.25,966.11 1369.05,952.91 1355.45,952.91" fill="#AA5CAA"/>
<polygon points="1362.25,1000.56 1369.05,987.36 1355.45,987.36" fill="#AA5CAA"/>
<line x1="1394.09" y1="1006" x2="1425.31" y2="1006" stroke="#000" stroke-width="1.9"/>
<line x1="1409.47" y1="977.66" x2="1409.47" y2="1034.88" stroke="#F57235" stroke-width="2.1"/>
<line x1="1401.61" y1="977.66" x2="1417.48" y2="977.66" stroke="#F57235" stroke-width="1.78" stroke-linecap="round"/>
<line x1="1401.61" y1="1034.88" x2="1417.48" y2="1034.88" stroke="#F57235" stroke-width="1.78" stroke-linecap="round"/>
<polygon points="1400.7,988.09 1407.5,994.89 1400.7,1001.69 1393.9,994.89" fill="#F57235"/>
<polygon points="1418.7,999.62 1425.5,1006.42 1418.7,1013.22 1411.9,1006.42" fill="#F57235"/>
<polygon points="1400.7,1011.16 1407.5,1017.96 1400.7,1024.76 1393.9,1017.96" fill="#F57235"/>
<line x1="1190.1" y1="832.88" x2="1190.1" y2="1064.15" stroke="#000" stroke-width="2.25"/>
<line x1="1188.97" y1="1063.02" x2="1441.5" y2="1063.02" stroke="#000" stroke-width="2.25"/>
<line x1="1180.5" y1="834" x2="1190.1" y2="834" stroke="#000" stroke-width="2.25"/>
<text transform="translate(1176.9 840.59) scale(0.935 1)" font-size="18.4" font-weight="bold" text-anchor="end">200</text>
<line x1="1180.5" y1="891.53" x2="1190.1" y2="891.53" stroke="#000" stroke-width="2.25"/>
<text transform="translate(1176.9 898.12) scale(0.935 1)" font-size="18.4" font-weight="bold" text-anchor="end">150</text>
<line x1="1180.5" y1="948.9" x2="1190.1" y2="948.9" stroke="#000" stroke-width="2.25"/>
<text transform="translate(1176.9 955.49) scale(0.935 1)" font-size="18.4" font-weight="bold" text-anchor="end">100</text>
<line x1="1180.5" y1="1006.42" x2="1190.1" y2="1006.42" stroke="#000" stroke-width="2.25"/>
<text transform="translate(1176.9 1013.01) scale(0.935 1)" font-size="18.4" font-weight="bold" text-anchor="end">50</text>
<line x1="1180.5" y1="1063.02" x2="1190.1" y2="1063.02" stroke="#000" stroke-width="2.25"/>
<text transform="translate(1176.9 1069.61) scale(0.935 1)" font-size="18.4" font-weight="bold" text-anchor="end">0</text>
<line x1="1220.76" y1="1063.02" x2="1220.76" y2="1072.52" stroke="#000" stroke-width="2.25"/>
<text x="1220.76" y="1092.24" font-size="17.2" font-weight="bold" text-anchor="middle">nc</text>
<line x1="1267.67" y1="1063.02" x2="1267.67" y2="1072.52" stroke="#000" stroke-width="2.25"/>
<text x="1267.67" y="1092.24" font-size="17.2" font-weight="bold" text-anchor="middle">zani</text>
<line x1="1314.88" y1="1063.02" x2="1314.88" y2="1072.52" stroke="#000" stroke-width="2.25"/>
<text x="1314.88" y="1092.24" font-size="17.2" font-weight="bold" text-anchor="middle">tras</text>
<line x1="1362.25" y1="1063.02" x2="1362.25" y2="1072.52" stroke="#000" stroke-width="2.25"/>
<text x="1362.25" y="1092.24" font-size="17.2" font-weight="bold" text-anchor="middle">pert</text>
<line x1="1409.47" y1="1063.02" x2="1409.47" y2="1072.52" stroke="#000" stroke-width="2.25"/>
<text x="1409.47" y="1092.24" font-size="17.2" font-weight="bold" text-anchor="middle">t + p</text>
<polyline points="1225.5,928.5 1225.5,916.5 1267.5,916.5 1267.5,964.5" fill="none" stroke="#111" stroke-width="1.2" stroke-linejoin="miter"/>
<polyline points="1226.5,871.5 1226.5,859.5 1408.5,859.5 1408.5,971.5" fill="none" stroke="#111" stroke-width="1.2" stroke-linejoin="miter"/>
<text x="1246.52" y="906.15" font-size="15" text-anchor="middle">p = 0.06</text>
<text x="1317.5" y="849.33" font-size="15" text-anchor="middle">p = 0.04</text>
<path d="M1536.91 941.84V955.04M1532.01 943.54L1541.81 953.34M1532.01 953.34L1541.81 943.54" stroke="#000" stroke-width="2.4" fill="none"/>
<path d="M1544.9 941.84V955.04M1540 943.54L1549.8 953.34M1540 953.34L1549.8 943.54" stroke="#000" stroke-width="2.4" fill="none"/>
<path d="M1553.05 941.84V955.04M1548.15 943.54L1557.95 953.34M1548.15 953.34L1557.95 943.54" stroke="#000" stroke-width="2.4" fill="none"/>
<line x1="1530.45" y1="948" x2="1559.51" y2="948" stroke="#000" stroke-width="1.9"/>
<line x1="1574.12" y1="1010" x2="1603.04" y2="1010" stroke="#000" stroke-width="1.9"/>
<line x1="1588.74" y1="993.81" x2="1588.74" y2="1027.65" stroke="#1A7CC0" stroke-width="2.1"/>
<line x1="1581.34" y1="993.81" x2="1595.98" y2="993.81" stroke="#1A7CC0" stroke-width="1.78" stroke-linecap="round"/>
<line x1="1581.34" y1="1027.65" x2="1595.98" y2="1027.65" stroke="#1A7CC0" stroke-width="1.78" stroke-linecap="round"/>
<rect x="1581.68" y="999.98" width="13.8" height="13.8" fill="#1A7CC0"/>
<rect x="1589.22" y="999.98" width="13.8" height="13.8" fill="#1A7CC0"/>
<rect x="1574.61" y="1010.75" width="13.8" height="13.8" fill="#1A7CC0"/>
<line x1="1617.65" y1="999" x2="1646.87" y2="999" stroke="#000" stroke-width="1.9"/>
<line x1="1632.26" y1="981.97" x2="1632.26" y2="1015.8" stroke="#94C200" stroke-width="2.1"/>
<line x1="1624.86" y1="981.97" x2="1639.81" y2="981.97" stroke="#94C200" stroke-width="1.78" stroke-linecap="round"/>
<line x1="1624.86" y1="1015.8" x2="1639.81" y2="1015.8" stroke="#94C200" stroke-width="1.78" stroke-linecap="round"/>
<polygon points="1631.95,990.29 1638.75,1003.49 1625.15,1003.49" fill="#94C200"/>
<polygon points="1639.95,988.75 1646.75,1001.95 1633.15,1001.95" fill="#94C200"/>
<polygon points="1624.72,1000.44 1631.52,1013.64 1617.92,1013.64" fill="#94C200"/>
<line x1="1661.48" y1="976" x2="1690.7" y2="976" stroke="#000" stroke-width="1.9"/>
<line x1="1675.79" y1="958.9" x2="1675.79" y2="992.73" stroke="#AA5CAA" stroke-width="2.1"/>
<line x1="1668.54" y1="958.9" x2="1683.18" y2="958.9" stroke="#AA5CAA" stroke-width="1.78" stroke-linecap="round"/>
<line x1="1668.54" y1="992.73" x2="1683.18" y2="992.73" stroke="#AA5CAA" stroke-width="1.78" stroke-linecap="round"/>
<polygon points="1675.94,978.57 1682.74,965.37 1669.14,965.37" fill="#AA5CAA"/>
<polygon points="1683.32,977.5 1690.12,964.3 1676.52,964.3" fill="#AA5CAA"/>
<polygon points="1668.4,989.34 1675.2,976.14 1661.6,976.14" fill="#AA5CAA"/>
<line x1="1705.01" y1="1015" x2="1734.54" y2="1015" stroke="#000" stroke-width="1.9"/>
<line x1="1719.62" y1="997.96" x2="1719.62" y2="1031.8" stroke="#F57235" stroke-width="2.1"/>
<line x1="1712.53" y1="997.96" x2="1727.02" y2="997.96" stroke="#F57235" stroke-width="1.78" stroke-linecap="round"/>
<line x1="1712.53" y1="1031.8" x2="1727.02" y2="1031.8" stroke="#F57235" stroke-width="1.78" stroke-linecap="round"/>
<polygon points="1719.93,1000.08 1726.73,1006.88 1719.93,1013.68 1713.13,1006.88" fill="#F57235"/>
<polygon points="1712.24,1011.62 1719.04,1018.42 1712.24,1025.22 1705.44,1018.42" fill="#F57235"/>
<polygon points="1727.15,1011.62 1733.95,1018.42 1727.15,1025.22 1720.35,1018.42" fill="#F57235"/>
<line x1="1515.8" y1="830.88" x2="1515.8" y2="1065.38" stroke="#000" stroke-width="2.25"/>
<line x1="1514.67" y1="1064.25" x2="1749" y2="1064.25" stroke="#000" stroke-width="2.25"/>
<line x1="1506.2" y1="832" x2="1515.8" y2="832" stroke="#000" stroke-width="2.25"/>
<text transform="translate(1502.6 838.82) scale(0.935 1)" font-size="19.05" font-weight="bold" text-anchor="end">200</text>
<line x1="1506.2" y1="890" x2="1515.8" y2="890" stroke="#000" stroke-width="2.25"/>
<text transform="translate(1502.6 896.82) scale(0.935 1)" font-size="19.05" font-weight="bold" text-anchor="end">150</text>
<line x1="1506.2" y1="948.13" x2="1515.8" y2="948.13" stroke="#000" stroke-width="2.25"/>
<text transform="translate(1502.6 954.95) scale(0.935 1)" font-size="19.05" font-weight="bold" text-anchor="end">100</text>
<line x1="1506.2" y1="1006.58" x2="1515.8" y2="1006.58" stroke="#000" stroke-width="2.25"/>
<text transform="translate(1502.6 1013.39) scale(0.935 1)" font-size="19.05" font-weight="bold" text-anchor="end">50</text>
<line x1="1506.2" y1="1064.25" x2="1515.8" y2="1064.25" stroke="#000" stroke-width="2.25"/>
<text transform="translate(1502.6 1071.07) scale(0.935 1)" font-size="19.05" font-weight="bold" text-anchor="end">0</text>
<line x1="1544.6" y1="1064.25" x2="1544.6" y2="1073.75" stroke="#000" stroke-width="2.25"/>
<text x="1544.6" y="1094.24" font-size="17.8" font-weight="bold" text-anchor="middle">nc</text>
<line x1="1588.43" y1="1064.25" x2="1588.43" y2="1073.75" stroke="#000" stroke-width="2.25"/>
<text x="1588.43" y="1094.24" font-size="17.8" font-weight="bold" text-anchor="middle">zani</text>
<line x1="1632.26" y1="1064.25" x2="1632.26" y2="1073.75" stroke="#000" stroke-width="2.25"/>
<text x="1632.26" y="1094.24" font-size="17.8" font-weight="bold" text-anchor="middle">tras</text>
<line x1="1675.79" y1="1064.25" x2="1675.79" y2="1073.75" stroke="#000" stroke-width="2.25"/>
<text x="1675.79" y="1094.24" font-size="17.8" font-weight="bold" text-anchor="middle">pert</text>
<line x1="1719.46" y1="1064.25" x2="1719.46" y2="1073.75" stroke="#000" stroke-width="2.25"/>
<text x="1719.46" y="1094.24" font-size="17.8" font-weight="bold" text-anchor="middle">t + p</text>
<polyline points="1545.5,928.5 1545.5,916.5 1588.5,916.5 1588.5,985.5" fill="none" stroke="#111" stroke-width="1.2" stroke-linejoin="miter"/>
<polyline points="1544.5,887.5 1544.5,858.5 1719.5,858.5 1719.5,985.5" fill="none" stroke="#111" stroke-width="1.2" stroke-linejoin="miter"/>
<text x="1566.9" y="906.45" font-size="15.5" text-anchor="middle">p = 0.06</text>
<text x="1632.17" y="848.33" font-size="15.5" text-anchor="middle">p = 0.03</text>
<text transform="translate(105 953) rotate(-90)" font-size="19.5" font-weight="bold" text-anchor="middle" textLength="247.4" lengthAdjust="spacingAndGlyphs">pHER2<tspan font-size="13.4">Y1221/1222</tspan>  (% of control)</text>
<text transform="translate(442.7 951.3) rotate(-90)" font-size="19.5" font-weight="bold" text-anchor="middle" textLength="190.7" lengthAdjust="spacingAndGlyphs">pHER3<tspan font-size="13.4">Y1289</tspan> (% control)</text>
<text transform="translate(786.7 950) rotate(-90)" font-size="19.5" font-weight="bold" text-anchor="middle" textLength="216.7" lengthAdjust="spacingAndGlyphs">pEGFR<tspan font-size="13.4">Y1068</tspan> (% of control)</text>
<text transform="translate(1133.3 949.2) rotate(-90)" font-size="19.5" font-weight="bold" text-anchor="middle" textLength="195" lengthAdjust="spacingAndGlyphs">pAkt<tspan font-size="14.4" dy="6.2">S474</tspan><tspan dy="-6.2"> (% of control)</tspan></text>
<text transform="translate(1460.3 948.3) rotate(-90)" font-size="19.5" font-weight="bold" text-anchor="middle" textLength="175.3" lengthAdjust="spacingAndGlyphs">pERK (% of control)</text>
<text transform="translate(50 953.7) rotate(-90)" font-size="23.5" font-weight="bold" text-anchor="middle" textLength="90.7" lengthAdjust="spacingAndGlyphs">NCI-N87</text>
<line x1="62.3" y1="848.3" x2="62.3" y2="1075" stroke="#000" stroke-width="2"/>
<text x="1" y="861" font-size="51" font-weight="bold" text-anchor="start">d</text>
<path d="M183.07 1281.15V1294.95M177.94 1282.93L188.19 1293.18M177.94 1293.18L188.19 1282.93" stroke="#4B5F6B" stroke-width="1.6" fill="none"/>
<path d="M189.68 1281.15V1294.95M184.56 1282.93L194.8 1293.18M184.56 1293.18L194.8 1282.93" stroke="#4B5F6B" stroke-width="1.6" fill="none"/>
<path d="M196.14 1281.15V1294.95M191.02 1282.93L201.26 1293.18M191.02 1293.18L201.26 1282.93" stroke="#4B5F6B" stroke-width="1.6" fill="none"/>
<path d="M202.29 1281.15V1294.95M197.17 1282.93L207.41 1293.18M197.17 1293.18L207.41 1282.93" stroke="#4B5F6B" stroke-width="1.6" fill="none"/>
<line x1="176.91" y1="1288" x2="208.14" y2="1288" stroke="#000" stroke-width="1.9"/>
<line x1="223.82" y1="1351" x2="255.35" y2="1351" stroke="#000" stroke-width="1.9"/>
<line x1="239.2" y1="1334.19" x2="239.2" y2="1367.26" stroke="#1A7CC0" stroke-width="2.1"/>
<line x1="231.34" y1="1334.19" x2="247.37" y2="1334.19" stroke="#1A7CC0" stroke-width="1.78" stroke-linecap="round"/>
<line x1="231.34" y1="1367.26" x2="247.37" y2="1367.26" stroke="#1A7CC0" stroke-width="1.78" stroke-linecap="round"/>
<rect x="241.22" y="1330.06" width="13.8" height="13.8" fill="#1A7CC0"/>
<rect x="232.3" y="1342.21" width="13.8" height="13.8" fill="#1A7CC0"/>
<rect x="223.54" y="1353.44" width="13.8" height="13.8" fill="#1A7CC0"/>
<rect x="241.22" y="1349.75" width="13.8" height="13.8" fill="#1A7CC0"/>
<line x1="270.42" y1="1319" x2="301.95" y2="1319" stroke="#000" stroke-width="1.9"/>
<line x1="285.8" y1="1295.74" x2="285.8" y2="1342.96" stroke="#94C200" stroke-width="2.1"/>
<line x1="277.95" y1="1295.74" x2="294.28" y2="1295.74" stroke="#94C200" stroke-width="1.78" stroke-linecap="round"/>
<line x1="277.95" y1="1342.96" x2="294.28" y2="1342.96" stroke="#94C200" stroke-width="1.78" stroke-linecap="round"/>
<polygon points="286.11,1293.76 292.91,1306.96 279.31,1306.96" fill="#94C200"/>
<polygon points="277.19,1310.98 283.99,1324.18 270.39,1324.18" fill="#94C200"/>
<polygon points="295.03,1319.44 301.83,1332.64 288.23,1332.64" fill="#94C200"/>
<polygon points="277.19,1328.36 283.99,1341.56 270.39,1341.56" fill="#94C200"/>
<line x1="317.33" y1="1290" x2="348.71" y2="1290" stroke="#000" stroke-width="1.9"/>
<line x1="332.71" y1="1273.9" x2="332.71" y2="1304.66" stroke="#AA5CAA" stroke-width="2.1"/>
<line x1="324.85" y1="1273.9" x2="341.19" y2="1273.9" stroke="#AA5CAA" stroke-width="1.78" stroke-linecap="round"/>
<line x1="324.85" y1="1304.66" x2="341.19" y2="1304.66" stroke="#AA5CAA" stroke-width="1.78" stroke-linecap="round"/>
<polygon points="324.25,1287.73 331.05,1274.53 317.45,1274.53" fill="#AA5CAA"/>
<polygon points="333.02,1287.43 339.82,1274.23 326.22,1274.23" fill="#AA5CAA"/>
<polygon points="341.79,1296.5 348.59,1283.3 334.99,1283.3" fill="#AA5CAA"/>
<polygon points="324.25,1308.96 331.05,1295.76 317.45,1295.76" fill="#AA5CAA"/>
<line x1="364.09" y1="1329" x2="395.62" y2="1329" stroke="#000" stroke-width="1.9"/>
<line x1="379.62" y1="1278.52" x2="379.62" y2="1379.87" stroke="#F57235" stroke-width="2.1"/>
<line x1="371.61" y1="1278.52" x2="388.1" y2="1278.52" stroke="#F57235" stroke-width="1.78" stroke-linecap="round"/>
<line x1="371.61" y1="1379.87" x2="388.1" y2="1379.87" stroke="#F57235" stroke-width="1.78" stroke-linecap="round"/>
<polygon points="379.62,1277.41 386.42,1284.21 379.62,1291.01 372.82,1284.21" fill="#F57235"/>
<polygon points="371.01,1327.86 377.81,1334.66 371.01,1341.46 364.21,1334.66" fill="#F57235"/>
<polygon points="388.7,1333.85 395.5,1340.65 388.7,1347.45 381.9,1340.65" fill="#F57235"/>
<polygon points="379.62,1350.93 386.42,1357.73 379.62,1364.53 372.82,1357.73" fill="#F57235"/>
<line x1="161.6" y1="1173.58" x2="161.6" y2="1402.68" stroke="#000" stroke-width="2.25"/>
<line x1="160.47" y1="1401.56" x2="411.9" y2="1401.56" stroke="#000" stroke-width="2.25"/>
<line x1="152.3" y1="1174.7" x2="161.6" y2="1174.7" stroke="#000" stroke-width="2.25"/>
<text transform="translate(148.7 1181.44) scale(0.935 1)" font-size="18.83" font-weight="bold" text-anchor="end">200</text>
<line x1="152.3" y1="1231.15" x2="161.6" y2="1231.15" stroke="#000" stroke-width="2.25"/>
<text transform="translate(148.7 1237.89) scale(0.935 1)" font-size="18.83" font-weight="bold" text-anchor="end">150</text>
<line x1="152.3" y1="1288.05" x2="161.6" y2="1288.05" stroke="#000" stroke-width="2.25"/>
<text transform="translate(148.7 1294.8) scale(0.935 1)" font-size="18.83" font-weight="bold" text-anchor="end">100</text>
<line x1="152.3" y1="1344.96" x2="161.6" y2="1344.96" stroke="#000" stroke-width="2.25"/>
<text transform="translate(148.7 1351.7) scale(0.935 1)" font-size="18.83" font-weight="bold" text-anchor="end">50</text>
<line x1="152.3" y1="1401.56" x2="161.6" y2="1401.56" stroke="#000" stroke-width="2.25"/>
<text transform="translate(148.7 1408.3) scale(0.935 1)" font-size="18.83" font-weight="bold" text-anchor="end">0</text>
<line x1="192.29" y1="1401.56" x2="192.29" y2="1411.06" stroke="#000" stroke-width="2.25"/>
<text x="191.83" y="1428.78" font-size="17.6" font-weight="bold" text-anchor="middle">nc</text>
<line x1="239.2" y1="1401.56" x2="239.2" y2="1411.06" stroke="#000" stroke-width="2.25"/>
<text x="241.97" y="1428.78" font-size="17.6" font-weight="bold" text-anchor="middle">zani</text>
<line x1="285.8" y1="1401.56" x2="285.8" y2="1411.06" stroke="#000" stroke-width="2.25"/>
<text x="288.88" y="1428.78" font-size="17.6" font-weight="bold" text-anchor="middle">tras</text>
<line x1="332.71" y1="1401.56" x2="332.71" y2="1411.06" stroke="#000" stroke-width="2.25"/>
<text x="335.33" y="1428.78" font-size="17.6" font-weight="bold" text-anchor="middle">pert</text>
<line x1="379.62" y1="1401.56" x2="379.62" y2="1411.06" stroke="#000" stroke-width="2.25"/>
<text x="382.24" y="1428.78" font-size="17.6" font-weight="bold" text-anchor="middle">t + p</text>
<polyline points="191.5,1276.5 191.5,1265.5 239.5,1265.5 239.5,1317.5" fill="none" stroke="#8c8c8c" stroke-width="0.9" stroke-linejoin="miter"/>
<text x="218.06" y="1254.68" font-size="15.3" text-anchor="middle">p = 0.05</text>
<text transform="translate(102.7 1284.8) rotate(-90)" font-size="19.5" font-weight="bold" text-anchor="middle" textLength="221" lengthAdjust="spacingAndGlyphs">pHER3<tspan font-size="14.4" dy="6.2">Y1289</tspan><tspan dy="-6.2"> (% of control)</tspan></text>
<path d="M526.14 1283.77V1297.57M521.02 1285.55L531.27 1295.79M521.02 1295.79L531.27 1285.55" stroke="#4B5F6B" stroke-width="1.6" fill="none"/>
<path d="M532.6 1283.77V1297.57M527.48 1285.55L537.73 1295.79M527.48 1295.79L537.73 1285.55" stroke="#4B5F6B" stroke-width="1.6" fill="none"/>
<path d="M538.91 1283.77V1297.57M533.79 1285.55L544.03 1295.79M533.79 1295.79L544.03 1285.55" stroke="#4B5F6B" stroke-width="1.6" fill="none"/>
<path d="M545.06 1283.77V1297.57M539.94 1285.55L550.18 1295.79M539.94 1295.79L550.18 1285.55" stroke="#4B5F6B" stroke-width="1.6" fill="none"/>
<line x1="519.53" y1="1291" x2="550.75" y2="1291" stroke="#000" stroke-width="1.9"/>
<line x1="566.13" y1="1357" x2="597.66" y2="1357" stroke="#000" stroke-width="1.9"/>
<line x1="581.82" y1="1326.81" x2="581.82" y2="1388.02" stroke="#1A7CC0" stroke-width="2.1"/>
<line x1="573.96" y1="1326.81" x2="590.14" y2="1326.81" stroke="#1A7CC0" stroke-width="1.78" stroke-linecap="round"/>
<line x1="573.96" y1="1388.02" x2="590.14" y2="1388.02" stroke="#1A7CC0" stroke-width="1.78" stroke-linecap="round"/>
<rect x="584.15" y="1331.14" width="13.8" height="13.8" fill="#1A7CC0"/>
<rect x="566.46" y="1340.37" width="13.8" height="13.8" fill="#1A7CC0"/>
<rect x="575.07" y="1354.21" width="13.8" height="13.8" fill="#1A7CC0"/>
<rect x="575.07" y="1375.28" width="13.8" height="13.8" fill="#1A7CC0"/>
<line x1="613.04" y1="1381" x2="644.57" y2="1381" stroke="#000" stroke-width="1.9"/>
<line x1="628.88" y1="1359.88" x2="628.88" y2="1400.64" stroke="#94C200" stroke-width="2.1"/>
<line x1="620.87" y1="1359.88" x2="637.05" y2="1359.88" stroke="#94C200" stroke-width="1.78" stroke-linecap="round"/>
<line x1="620.87" y1="1400.64" x2="637.05" y2="1400.64" stroke="#94C200" stroke-width="1.78" stroke-linecap="round"/>
<polygon points="637.65,1361.74 644.45,1374.94 630.85,1374.94" fill="#94C200"/>
<polygon points="620.27,1364.04 627.07,1377.24 613.47,1377.24" fill="#94C200"/>
<polygon points="637.65,1384.19 644.45,1397.39 630.85,1397.39" fill="#94C200"/>
<polygon points="620.27,1386.35 627.07,1399.55 613.47,1399.55" fill="#94C200"/>
<line x1="659.95" y1="1359" x2="691.48" y2="1359" stroke="#000" stroke-width="1.9"/>
<line x1="675.79" y1="1336.96" x2="675.79" y2="1381.56" stroke="#AA5CAA" stroke-width="2.1"/>
<line x1="667.78" y1="1336.96" x2="683.96" y2="1336.96" stroke="#AA5CAA" stroke-width="1.78" stroke-linecap="round"/>
<line x1="667.78" y1="1381.56" x2="683.96" y2="1381.56" stroke="#AA5CAA" stroke-width="1.78" stroke-linecap="round"/>
<polygon points="667.18,1353.1 673.98,1339.9 660.38,1339.9" fill="#AA5CAA"/>
<polygon points="684.86,1358.17 691.66,1344.97 678.06,1344.97" fill="#AA5CAA"/>
<polygon points="675.64,1366.63 682.44,1353.43 668.84,1353.43" fill="#AA5CAA"/>
<polygon points="675.64,1385.09 682.44,1371.89 668.84,1371.89" fill="#AA5CAA"/>
<line x1="706.86" y1="1355" x2="738.69" y2="1355" stroke="#000" stroke-width="1.9"/>
<line x1="722.7" y1="1317.74" x2="722.7" y2="1392.33" stroke="#F57235" stroke-width="2.1"/>
<line x1="714.68" y1="1317.74" x2="730.86" y2="1317.74" stroke="#F57235" stroke-width="1.78" stroke-linecap="round"/>
<line x1="714.68" y1="1392.33" x2="730.86" y2="1392.33" stroke="#F57235" stroke-width="1.78" stroke-linecap="round"/>
<polygon points="722.7,1317.86 729.5,1324.66 722.7,1331.46 715.9,1324.66" fill="#F57235"/>
<polygon points="714.08,1345.85 720.88,1352.65 714.08,1359.45 707.28,1352.65" fill="#F57235"/>
<polygon points="731.77,1356.31 738.57,1363.11 731.77,1369.91 724.97,1363.11" fill="#F57235"/>
<polygon points="722.7,1374 729.5,1380.8 722.7,1387.6 715.9,1380.8" fill="#F57235"/>
<line x1="504.1" y1="1175.58" x2="504.1" y2="1405.61" stroke="#000" stroke-width="2.25"/>
<line x1="502.98" y1="1404.48" x2="754.5" y2="1404.48" stroke="#000" stroke-width="2.25"/>
<line x1="494.7" y1="1176.7" x2="504.1" y2="1176.7" stroke="#000" stroke-width="2.25"/>
<text transform="translate(491.1 1183.44) scale(0.935 1)" font-size="18.83" font-weight="bold" text-anchor="end">200</text>
<line x1="494.7" y1="1233.46" x2="504.1" y2="1233.46" stroke="#000" stroke-width="2.25"/>
<text transform="translate(491.1 1240.2) scale(0.935 1)" font-size="18.83" font-weight="bold" text-anchor="end">150</text>
<line x1="494.7" y1="1290.67" x2="504.1" y2="1290.67" stroke="#000" stroke-width="2.25"/>
<text transform="translate(491.1 1297.41) scale(0.935 1)" font-size="18.83" font-weight="bold" text-anchor="end">100</text>
<line x1="494.7" y1="1347.57" x2="504.1" y2="1347.57" stroke="#000" stroke-width="2.25"/>
<text transform="translate(491.1 1354.32) scale(0.935 1)" font-size="18.83" font-weight="bold" text-anchor="end">50</text>
<line x1="494.7" y1="1404.48" x2="504.1" y2="1404.48" stroke="#000" stroke-width="2.25"/>
<text transform="translate(491.1 1411.22) scale(0.935 1)" font-size="18.83" font-weight="bold" text-anchor="end">0</text>
<line x1="534.91" y1="1404.48" x2="534.91" y2="1413.98" stroke="#000" stroke-width="2.25"/>
<text x="534.91" y="1431.09" font-size="17.6" font-weight="bold" text-anchor="middle">nc</text>
<line x1="581.82" y1="1404.48" x2="581.82" y2="1413.98" stroke="#000" stroke-width="2.25"/>
<text x="581.97" y="1431.09" font-size="17.6" font-weight="bold" text-anchor="middle">zani</text>
<line x1="628.88" y1="1404.48" x2="628.88" y2="1413.98" stroke="#000" stroke-width="2.25"/>
<text x="627.34" y="1431.09" font-size="17.6" font-weight="bold" text-anchor="middle">tras</text>
<line x1="675.79" y1="1404.48" x2="675.79" y2="1413.98" stroke="#000" stroke-width="2.25"/>
<text x="674.56" y="1431.09" font-size="17.6" font-weight="bold" text-anchor="middle">pert</text>
<line x1="722.54" y1="1404.48" x2="722.54" y2="1413.98" stroke="#000" stroke-width="2.25"/>
<text x="729.46" y="1431.09" font-size="17.6" font-weight="bold" text-anchor="middle">t + p</text>
<polyline points="535.5,1280.5 535.5,1268.5 582.5,1268.5 582.5,1322.5" fill="none" stroke="#8c8c8c" stroke-width="0.9" stroke-linejoin="miter"/>
<polyline points="535.5,1249.5 535.5,1229.5 629.5,1229.5 629.5,1351.5" fill="none" stroke="#8c8c8c" stroke-width="0.9" stroke-linejoin="miter"/>
<polyline points="535.5,1218.5 535.5,1193.5 675.5,1193.5 675.5,1328.5" fill="none" stroke="#8c8c8c" stroke-width="0.9" stroke-linejoin="miter"/>
<text x="535.68" y="1260.68" font-size="15.3" text-anchor="start">p = 0.08</text>
<text x="582.67" y="1219.67" font-size="15.3" text-anchor="middle">p = 0.02</text>
<text x="608" y="1182.67" font-size="15.3" text-anchor="middle">p = 0.09</text>
<text transform="translate(451 1288.3) rotate(-90)" font-size="19.5" font-weight="bold" text-anchor="middle" textLength="194" lengthAdjust="spacingAndGlyphs">pAkt<tspan font-size="14.4" dy="6.2">S474</tspan><tspan dy="-6.2"> (% of control)</tspan></text>
<text transform="translate(53.3 1290.2) rotate(-90)" font-size="23.5" font-weight="bold" text-anchor="middle" textLength="95" lengthAdjust="spacingAndGlyphs">SK-BR-3</text>
<line x1="62.3" y1="1177.7" x2="62.3" y2="1405.3" stroke="#000" stroke-width="2"/>
<text x="0" y="1163" font-size="51" font-weight="bold" text-anchor="start">e</text>
<line x1="1173.64" y1="1174.89" x2="1208.86" y2="1174.89" stroke="#1F69B4" stroke-width="1.3"/>
<rect x="1183.48" y="1166.89" width="16" height="16" fill="#1F69B4"/>
<text x="1227.16" y="1184.72" font-size="25.6" text-anchor="start" fill="#1a1a1a" textLength="147.28" lengthAdjust="spacingAndGlyphs" stroke="#1a1a1a" stroke-width="0.35">zanidatamab</text>
<line x1="1173.64" y1="1221.54" x2="1208.86" y2="1221.54" stroke="#84BD00" stroke-width="1.3"/>
<polygon points="1191.48,1213.84 1199.48,1229.84 1183.48,1229.84" fill="#84BD00"/>
<text x="1227.16" y="1231.38" font-size="25.6" text-anchor="start" fill="#1a1a1a" textLength="141.57" lengthAdjust="spacingAndGlyphs" stroke="#1a1a1a" stroke-width="0.35">trastuzumab</text>
<line x1="1173.64" y1="1268.2" x2="1208.86" y2="1268.2" stroke="#9E4EA5" stroke-width="1.3"/>
<polygon points="1191.48,1276.5 1199.48,1260.5 1183.48,1260.5" fill="#9E4EA5"/>
<text x="1227.16" y="1277.8" font-size="25.6" text-anchor="start" fill="#1a1a1a" textLength="136.31" lengthAdjust="spacingAndGlyphs" stroke="#1a1a1a" stroke-width="0.35">pertuzumab</text>
<line x1="1173.64" y1="1310.28" x2="1208.86" y2="1310.28" stroke="#F05A28" stroke-width="1.3"/>
<polygon points="1191.48,1302.28 1199.48,1310.28 1191.48,1318.28 1183.48,1310.28" fill="#F05A28"/>
<text x="1227.16" y="1320.34" font-size="25.6" text-anchor="start" fill="#1a1a1a" textLength="115.95" lengthAdjust="spacingAndGlyphs" stroke="#1a1a1a" stroke-width="0.35">tras + pert</text>
<line x1="1173.64" y1="1355.11" x2="1208.86" y2="1355.11" stroke="#3E515B" stroke-width="1.3"/>
<path d="M1191.48 1347.61V1362.61M1185.91 1349.54L1197.05 1360.67M1185.91 1360.67L1197.05 1349.54M1183.98 1355.11H1198.98" stroke="#3E515B" stroke-width="2.6" fill="none"/>
<text x="1227.16" y="1365.17" font-size="25.6" text-anchor="start" fill="#1a1a1a" textLength="133.56" lengthAdjust="spacingAndGlyphs" stroke="#1a1a1a" stroke-width="0.35">neg. control</text>
</svg>
</body></html>
